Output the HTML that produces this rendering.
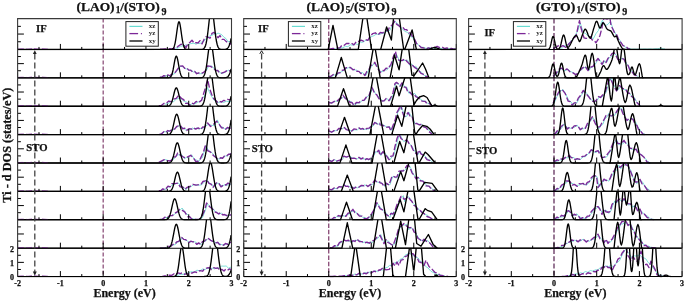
<!DOCTYPE html><html><head><meta charset="utf-8"><style>html,body{margin:0;padding:0;background:#fff;overflow:hidden;}svg{display:block;will-change:transform;}text{font-family:"Liberation Serif",serif;font-weight:bold;}</style></head><body>
<svg width="685" height="301" viewBox="0 0 685 301">
<rect x="0" y="0" width="685" height="301" fill="#fff"/>
<text transform="translate(11.3,145.2) rotate(-90)" text-anchor="middle" font-size="12.3" fill="#111" stroke="#111" stroke-width="0.25">Ti - d DOS (states/eV)</text>
<line x1="103.16" y1="18.6" x2="103.16" y2="276.57" stroke="#7a3465" stroke-width="1.1" stroke-dasharray="4,2"/>
<clipPath id="c0_0"><rect x="17.6" y="18.6" width="213.90" height="31.85"/></clipPath>
<path d="M170.00,49.15 L172.67,48.91 L175.33,48.10 L178.00,48.21 L180.50,46.23 L183.00,45.93 L185.50,44.97 L188.00,45.50 L190.00,43.73 L192.00,43.47 L194.00,43.22 L196.00,44.30 L198.00,43.04 L200.00,43.66 L202.00,41.69 L204.00,41.36 L206.00,38.44 L208.00,37.72 L210.00,35.46 L212.00,35.45 L214.00,33.76 L216.00,34.27 L218.00,33.07 L220.00,33.89 L222.00,34.93 L224.00,37.31 L226.00,38.60 L228.00,41.66 L230.00,41.66 L232.00,43.00" fill="none" stroke="#6adcd2" stroke-width="0.85" clip-path="url(#c0_0)"/>
<path d="M160.00,49.23 L162.50,49.29 L165.00,48.93 L167.50,49.05 L170.00,48.59 L172.00,48.92 L174.00,48.25 L176.00,48.23 L178.00,46.37 L181.00,44.20 L184.00,45.08 L186.00,47.65 L188.00,43.49 L190.00,42.32 L192.00,40.27 L194.00,42.99 L196.00,42.58 L198.00,42.96 L200.00,40.65 L202.00,43.91 L204.00,39.47 L206.00,36.80 L208.00,37.09 L210.00,38.27 L212.00,33.37 L214.00,32.39 L216.00,34.39 L218.00,37.72 L220.00,35.58 L222.00,39.45 L224.00,39.36 L226.00,41.39 L228.00,42.51 L230.00,44.35 L232.00,40.00" fill="none" stroke="#7c2898" stroke-width="1.35" stroke-dasharray="6.5,2.2" stroke-linejoin="round" clip-path="url(#c0_0)"/>
<path d="M17.60,49.45 L170.10,49.44 L170.60,49.42 L171.10,49.38 L171.60,49.31 L172.10,49.17 L172.60,48.91 L173.10,48.48 L173.30,48.23 L173.60,47.77 L174.10,46.70 L174.60,45.15 L175.10,43.04 L175.60,40.34 L176.10,37.11 L176.60,33.53 L177.10,29.88 L177.60,26.51 L178.10,23.83 L178.60,22.17 L179.00,21.75 L179.10,21.78 L179.60,22.69 L180.10,24.79 L180.60,27.80 L181.10,31.33 L181.60,34.99 L182.10,38.46 L182.60,41.49 L183.10,43.95 L183.60,45.83 L184.10,47.18 L184.60,48.09 L184.70,48.23 L185.10,48.68 L185.60,49.03 L186.10,49.23 L186.60,49.34 L187.10,49.40 L187.60,49.43 L200.60,49.43 L201.10,49.42 L201.60,49.38 L202.10,49.33 L202.60,49.22 L203.10,49.05 L203.60,48.77 L204.10,48.32 L204.60,47.65 L205.10,46.66 L205.60,45.28 L206.10,43.40 L206.60,40.97 L207.10,37.94 L207.60,34.34 L208.10,30.25 L208.60,25.84 L209.10,21.36 L209.60,17.10 L210.10,13.40 L210.60,10.57 L211.10,8.88 L211.50,8.45 L211.60,8.48 L212.10,9.41 L212.60,11.58 L213.10,14.79 L213.60,18.75 L214.10,23.14 L214.60,27.63 L215.10,31.94 L215.60,35.85 L216.10,39.23 L216.60,42.01 L217.10,44.22 L217.60,45.88 L218.10,47.10 L218.40,47.65 L218.60,47.95 L219.10,48.52 L219.60,48.90 L220.10,49.13 L220.60,49.27 L221.10,49.35 L221.60,49.40 L222.10,49.42 L223.60,49.43 L224.10,49.41 L224.60,49.38 L225.10,49.33 L225.60,49.25 L226.10,49.13 L226.60,48.94 L227.10,48.65 L227.60,48.23 L227.70,48.13 L228.10,47.65 L228.60,46.85 L229.10,45.79 L229.60,44.43 L230.10,42.74 L230.60,40.71 L231.10,38.35" fill="none" stroke="#000" stroke-width="1.35" stroke-linejoin="round" clip-path="url(#c0_0)"/>
<clipPath id="c0_1"><rect x="17.6" y="49.45" width="213.90" height="29.39"/></clipPath>
<path d="M160.60,77.12 L163.60,77.01 L166.60,75.52 L169.60,75.97 L172.60,74.61 L175.05,73.26 L177.50,70.12 L180.50,66.24 L183.50,66.93 L185.50,68.94 L187.50,68.94 L189.50,70.56 L191.50,70.36 L193.50,72.05 L195.50,71.77 L197.45,73.39 L199.40,73.73 L201.90,73.70 L204.40,72.20 L206.40,70.55 L208.40,66.61 L211.40,65.94 L214.40,68.62 L216.40,70.67 L218.40,70.56 L220.35,72.99 L222.30,73.58 L225.30,72.02 L228.30,70.26 L230.55,70.91 L232.80,69.94" fill="none" stroke="#6adcd2" stroke-width="0.85" clip-path="url(#c0_1)"/>
<path d="M159.80,77.07 L161.80,77.22 L163.80,75.62 L165.80,76.29 L167.80,74.82 L169.80,75.75 L171.80,74.05 L174.25,73.64 L176.70,70.41 L179.70,66.14 L182.70,65.93 L184.70,68.41 L186.70,67.98 L188.70,70.13 L190.70,70.19 L192.70,72.09 L194.70,71.33 L196.65,73.74 L198.60,72.89 L201.10,73.64 L203.60,72.46 L205.60,70.48 L207.60,65.86 L210.60,66.37 L213.60,68.33 L215.60,70.40 L217.60,70.46 L219.55,72.77 L221.50,73.19 L224.50,72.05 L227.50,70.32 L229.75,70.78 L232.00,69.80" fill="none" stroke="#7c2898" stroke-width="1.35" stroke-dasharray="6.5,2.2" stroke-linejoin="round" clip-path="url(#c0_1)"/>
<path d="M17.60,77.84 L167.60,77.83 L168.10,77.81 L168.60,77.77 L169.10,77.69 L169.60,77.55 L170.10,77.30 L170.60,76.89 L171.10,76.23 L171.60,75.25 L172.10,73.86 L172.60,72.02 L173.10,69.74 L173.60,67.08 L174.10,64.22 L174.60,61.41 L175.10,58.95 L175.60,57.14 L176.10,56.22 L176.30,56.14 L176.60,56.33 L177.10,57.44 L177.60,59.40 L178.10,61.95 L178.60,64.79 L179.10,67.63 L179.60,70.23 L180.10,72.43 L180.60,74.17 L181.10,75.47 L181.60,76.38 L182.00,76.89 L182.10,76.99 L182.60,77.36 L183.10,77.59 L183.60,77.71 L184.10,77.78 L184.60,77.81 L200.10,77.81 L200.60,77.79 L201.10,77.74 L201.60,77.66 L202.10,77.53 L202.60,77.30 L203.10,76.94 L203.60,76.40 L203.70,76.26 L204.10,75.59 L204.60,74.45 L205.10,72.90 L205.60,70.86 L206.10,68.31 L206.60,65.24 L207.10,61.73 L207.60,57.90 L208.10,53.95 L208.60,50.15 L209.10,46.78 L209.60,44.13 L210.10,42.43 L210.60,41.84 L211.10,42.43 L211.60,44.13 L212.10,46.78 L212.60,50.15 L213.10,53.95 L213.60,57.90 L214.10,61.73 L214.60,65.24 L215.10,68.31 L215.60,70.86 L216.10,72.90 L216.60,74.45 L217.10,75.59 L217.50,76.26 L217.60,76.40 L218.10,76.94 L218.60,77.30 L219.10,77.53 L219.60,77.66 L220.10,77.74 L220.60,77.79 L221.10,77.81 L223.60,77.82 L224.10,77.81 L224.60,77.79 L225.10,77.75 L225.60,77.68 L226.10,77.58 L226.60,77.43 L227.10,77.20 L227.60,76.87 L227.70,76.79 L228.10,76.40 L228.60,75.76 L229.10,74.91 L229.60,73.82 L230.10,72.47 L230.60,70.85 L231.10,68.96" fill="none" stroke="#000" stroke-width="1.35" stroke-linejoin="round" clip-path="url(#c0_1)"/>
<clipPath id="c0_2"><rect x="17.6" y="77.84" width="213.90" height="29.39"/></clipPath>
<path d="M165.00,104.08 L167.90,103.74 L170.80,101.78 L173.70,101.58 L176.20,99.15 L178.70,98.40 L181.20,98.70 L183.70,101.19 L186.70,102.17 L189.70,104.98 L192.33,103.70 L194.97,103.87 L197.60,102.30 L200.60,100.88 L203.60,97.29 L205.60,93.28 L207.60,87.63 L209.60,92.76 L211.60,96.40 L214.10,100.11 L216.60,101.35 L218.90,102.54 L221.20,101.46 L223.50,102.52 L226.33,101.27 L229.17,101.63 L232.00,100.90" fill="none" stroke="#6adcd2" stroke-width="0.85" clip-path="url(#c0_2)"/>
<path d="M158.80,105.74 L161.30,105.53 L163.80,103.54 L166.30,103.28 L168.80,101.03 L171.25,101.70 L173.70,99.14 L176.20,98.43 L178.70,95.18 L181.70,98.62 L183.70,99.70 L185.70,103.33 L187.70,103.30 L189.70,105.29 L191.70,103.11 L193.70,103.87 L196.15,101.46 L198.60,102.58 L201.60,100.29 L204.60,90.40 L207.60,79.65 L209.60,88.34 L211.60,94.27 L213.60,98.43 L215.60,100.33 L217.60,102.30 L219.60,101.23 L221.55,102.09 L223.50,100.42 L225.50,100.74 L227.50,99.36 L229.75,99.81 L232.00,98.90" fill="none" stroke="#7c2898" stroke-width="1.35" stroke-dasharray="6.5,2.2" stroke-linejoin="round" clip-path="url(#c0_2)"/>
<path d="M17.60,106.23 L166.60,106.21 L167.10,106.19 L167.60,106.15 L168.10,106.08 L168.60,105.97 L169.10,105.78 L169.60,105.50 L169.70,105.42 L170.10,105.06 L170.60,104.44 L171.10,103.59 L171.60,102.46 L172.10,101.04 L172.60,99.34 L173.10,97.40 L173.60,95.32 L174.10,93.23 L174.60,91.28 L175.10,89.64 L175.60,88.47 L176.10,87.88 L176.30,87.83 L176.60,87.95 L177.10,88.66 L177.60,89.93 L178.10,91.65 L178.60,93.64 L179.10,95.75 L179.60,97.81 L180.10,99.70 L180.60,101.35 L181.10,102.71 L181.60,103.78 L182.10,104.58 L182.60,105.16 L182.90,105.42 L183.10,105.56 L183.60,105.83 L184.10,106.00 L184.60,106.10 L185.10,106.16 L185.60,106.19 L186.10,106.21 L198.60,106.21 L199.10,106.20 L199.60,106.17 L200.10,106.11 L200.60,106.02 L201.10,105.87 L201.60,105.63 L202.10,105.26 L202.60,104.70 L202.70,104.56 L203.10,103.89 L203.60,102.76 L204.10,101.23 L204.60,99.24 L205.10,96.75 L205.60,93.76 L206.10,90.32 L206.60,86.52 L207.10,82.54 L207.60,78.61 L208.10,74.97 L208.60,71.91 L209.10,69.67 L209.60,68.44 L209.90,68.23 L210.10,68.32 L210.60,69.34 L211.10,71.39 L211.60,74.31 L212.10,77.85 L212.60,81.74 L213.10,85.73 L213.60,89.58 L214.10,93.11 L214.60,96.20 L215.10,98.78 L215.60,100.87 L216.10,102.49 L216.60,103.69 L217.10,104.56 L217.60,105.16 L218.10,105.57 L218.60,105.83 L219.10,106.00 L219.60,106.10 L220.10,106.16 L220.60,106.19 L221.10,106.21 L223.60,106.21 L224.10,106.20 L224.60,106.17 L225.10,106.13 L225.60,106.05 L226.10,105.94 L226.60,105.77 L227.10,105.51 L227.60,105.14 L227.70,105.04 L228.10,104.61 L228.60,103.89 L229.10,102.94 L229.60,101.71 L230.10,100.19 L230.60,98.36 L231.10,96.24" fill="none" stroke="#000" stroke-width="1.35" stroke-linejoin="round" clip-path="url(#c0_2)"/>
<clipPath id="c0_3"><rect x="17.6" y="106.23" width="213.90" height="29.39"/></clipPath>
<path d="M159.60,134.62 L162.10,133.76 L164.60,131.67 L167.60,131.98 L170.60,130.39 L173.05,130.26 L175.50,127.59 L177.50,127.16 L179.50,124.99 L181.50,127.39 L183.50,128.08 L185.50,130.02 L187.50,129.37 L190.00,129.69 L192.50,128.02 L194.50,129.08 L196.50,127.91 L198.95,128.96 L201.40,128.20 L203.40,128.20 L205.40,126.07 L208.40,124.37 L211.40,125.29 L214.40,125.73 L217.40,119.92 L220.40,126.76 L222.35,126.79 L224.30,128.94 L226.30,128.12 L228.30,128.40 L230.55,126.96 L232.80,127.27" fill="none" stroke="#6adcd2" stroke-width="0.85" clip-path="url(#c0_3)"/>
<path d="M158.80,134.62 L161.30,133.88 L163.80,131.63 L165.80,132.45 L167.80,130.53 L169.80,131.17 L172.25,129.17 L174.70,129.07 L176.70,126.31 L178.70,125.88 L180.70,125.83 L182.70,128.83 L184.70,128.13 L186.70,130.43 L189.20,128.56 L191.70,129.22 L193.70,127.76 L195.70,129.09 L198.15,127.83 L200.60,129.61 L202.60,127.04 L204.60,127.17 L207.60,122.98 L210.60,126.51 L213.60,124.28 L216.60,121.15 L219.60,124.91 L221.55,127.93 L223.50,128.01 L225.50,129.40 L227.50,127.41 L229.75,128.42 L232.00,126.80" fill="none" stroke="#7c2898" stroke-width="1.35" stroke-dasharray="6.5,2.2" stroke-linejoin="round" clip-path="url(#c0_3)"/>
<path d="M17.60,134.62 L167.10,134.59 L167.60,134.57 L168.10,134.52 L168.60,134.44 L169.10,134.30 L169.60,134.07 L170.10,133.72 L170.60,133.21 L171.10,132.47 L171.60,131.46 L172.10,130.15 L172.60,128.51 L173.10,126.57 L173.60,124.38 L174.10,122.06 L174.60,119.75 L175.10,117.64 L175.60,115.92 L176.10,114.74 L176.60,114.23 L176.70,114.22 L177.10,114.45 L177.60,115.37 L178.10,116.90 L178.60,118.87 L179.10,121.13 L179.60,123.46 L180.10,125.72 L180.60,127.77 L181.10,129.53 L181.60,130.98 L182.10,132.10 L182.60,132.94 L183.10,133.54 L183.30,133.72 L183.60,133.95 L184.10,134.22 L184.60,134.39 L185.10,134.49 L185.60,134.55 L186.10,134.58 L186.60,134.60 L199.10,134.60 L199.60,134.57 L200.10,134.53 L200.60,134.47 L201.10,134.35 L201.60,134.16 L202.10,133.85 L202.60,133.39 L203.00,132.86 L203.10,132.70 L203.60,131.72 L204.10,130.37 L204.60,128.58 L205.10,126.28 L205.60,123.45 L206.10,120.10 L206.60,116.31 L207.10,112.21 L207.60,108.01 L208.10,103.96 L208.60,100.34 L209.10,97.43 L209.60,95.48 L210.10,94.64 L210.20,94.62 L210.60,95.00 L211.10,96.53 L211.60,99.08 L212.10,102.44 L212.60,106.35 L213.10,110.53 L213.60,114.69 L214.10,118.63 L214.60,122.17 L215.10,125.21 L215.60,127.72 L216.10,129.71 L216.60,131.23 L217.10,132.35 L217.40,132.86 L217.60,133.15 L218.10,133.69 L218.60,134.05 L219.10,134.28 L219.60,134.43 L220.10,134.51 L220.60,134.56 L221.10,134.59 L221.60,134.60 L223.60,134.59 L224.10,134.57 L224.60,134.53 L225.10,134.47 L225.60,134.36 L226.10,134.19 L226.60,133.94 L227.10,133.55 L227.60,133.00 L227.70,132.86 L228.10,132.22 L228.60,131.15 L229.10,129.74 L229.60,127.93 L230.10,125.67 L230.60,122.97 L231.10,119.82" fill="none" stroke="#000" stroke-width="1.35" stroke-linejoin="round" clip-path="url(#c0_3)"/>
<clipPath id="c0_4"><rect x="17.6" y="134.62" width="213.90" height="29.39"/></clipPath>
<path d="M159.60,162.41 L162.60,161.15 L165.10,159.51 L167.60,160.30 L170.60,160.93 L174.50,158.48 L176.50,155.76 L178.50,154.77 L181.50,154.49 L184.50,158.71 L186.50,157.48 L188.50,157.90 L191.50,154.70 L194.50,159.60 L196.45,159.82 L198.40,162.03 L200.40,158.65 L202.40,157.64 L206.00,145.55 L208.40,150.25 L211.40,152.28 L214.40,155.18 L217.40,158.61 L219.40,159.05 L221.40,158.08 L223.35,157.75 L225.30,156.06 L227.30,156.01 L229.30,154.26 L232.80,153.03" fill="none" stroke="#6adcd2" stroke-width="0.85" clip-path="url(#c0_4)"/>
<path d="M158.80,162.38 L161.80,160.89 L164.30,159.62 L166.80,160.33 L169.80,160.99 L171.75,160.19 L173.70,156.98 L175.70,156.75 L177.70,153.08 L180.70,155.37 L183.70,157.23 L185.70,158.10 L187.70,156.86 L190.70,155.29 L193.70,158.44 L195.65,161.33 L197.60,161.42 L199.60,160.25 L201.60,156.05 L203.40,152.15 L205.20,145.97 L207.60,150.63 L210.60,152.10 L213.60,155.78 L216.60,158.00 L218.60,159.08 L220.60,157.78 L222.55,158.26 L224.50,155.85 L226.50,156.14 L228.50,154.27 L230.25,154.28 L232.00,152.90" fill="none" stroke="#7c2898" stroke-width="1.35" stroke-dasharray="6.5,2.2" stroke-linejoin="round" clip-path="url(#c0_4)"/>
<path d="M17.60,163.01 L167.60,162.99 L168.10,162.96 L168.60,162.92 L169.10,162.85 L169.60,162.72 L170.10,162.52 L170.60,162.20 L170.70,162.12 L171.10,161.73 L171.60,161.05 L172.10,160.11 L172.60,158.87 L173.10,157.31 L173.60,155.44 L174.10,153.32 L174.60,151.04 L175.10,148.74 L175.60,146.59 L176.10,144.79 L176.60,143.51 L177.10,142.87 L177.30,142.81 L177.60,142.94 L178.10,143.72 L178.60,145.12 L179.10,147.00 L179.60,149.19 L180.10,151.50 L180.60,153.76 L181.10,155.84 L181.60,157.65 L182.10,159.14 L182.60,160.32 L183.10,161.20 L183.60,161.84 L183.90,162.12 L184.10,162.28 L184.60,162.57 L185.10,162.75 L185.60,162.87 L186.10,162.93 L186.60,162.97 L187.10,162.99 L199.60,162.98 L200.10,162.96 L200.60,162.91 L201.10,162.84 L201.60,162.71 L202.10,162.50 L202.60,162.17 L203.10,161.66 L203.40,161.25 L203.60,160.92 L204.10,159.88 L204.60,158.44 L205.10,156.55 L205.60,154.15 L206.10,151.21 L206.60,147.76 L207.10,143.90 L207.60,139.76 L208.10,135.57 L208.60,131.58 L209.10,128.08 L209.60,125.35 L210.10,123.61 L210.60,123.01 L211.10,123.61 L211.60,125.35 L212.10,128.08 L212.60,131.58 L213.10,135.57 L213.60,139.76 L214.10,143.90 L214.60,147.76 L215.10,151.21 L215.60,154.15 L216.10,156.55 L216.60,158.44 L217.10,159.88 L217.60,160.92 L217.80,161.25 L218.10,161.66 L218.60,162.17 L219.10,162.50 L219.60,162.71 L220.10,162.84 L220.60,162.91 L221.10,162.96 L221.60,162.98 L223.60,162.99 L224.10,162.98 L224.60,162.95 L225.10,162.91 L225.60,162.85 L226.10,162.74 L226.60,162.58 L227.10,162.34 L227.60,162.00 L227.70,161.91 L228.10,161.51 L228.60,160.84 L229.10,159.96 L229.60,158.83 L230.10,157.42 L230.60,155.73 L231.10,153.76" fill="none" stroke="#000" stroke-width="1.35" stroke-linejoin="round" clip-path="url(#c0_4)"/>
<clipPath id="c0_5"><rect x="17.6" y="163.01" width="213.90" height="29.39"/></clipPath>
<path d="M159.60,190.65 L161.60,190.58 L163.60,189.19 L165.80,189.29 L168.80,186.80 L170.80,186.66 L172.80,184.08 L175.80,183.53 L178.80,183.19 L180.80,186.88 L183.80,187.44 L185.80,189.65 L187.80,187.86 L190.80,186.69 L193.80,184.62 L196.80,185.08 L199.80,185.14 L201.80,184.72 L203.80,182.33 L205.80,180.57 L207.80,180.97 L209.80,183.30 L211.80,184.15 L213.80,187.34 L215.80,184.53 L217.80,183.07 L219.80,183.96 L221.80,186.35 L224.80,184.68 L226.80,185.62 L228.80,184.07 L230.80,184.27 L232.80,183.25" fill="none" stroke="#6adcd2" stroke-width="0.85" clip-path="url(#c0_5)"/>
<path d="M158.80,190.58 L160.80,190.68 L162.80,188.84 L165.00,189.94 L168.00,186.19 L170.00,186.92 L172.00,183.66 L175.00,183.63 L178.00,183.06 L180.00,186.75 L183.00,187.09 L185.00,189.40 L187.00,187.37 L190.00,186.49 L193.00,184.32 L196.00,185.20 L199.00,184.67 L201.00,184.47 L203.00,181.49 L205.00,180.92 L207.00,180.18 L209.00,183.43 L211.00,184.16 L213.00,187.42 L215.00,184.27 L217.00,182.41 L219.00,183.67 L221.00,186.89 L224.00,184.54 L226.00,184.97 L228.00,183.04 L230.00,184.39 L232.00,183.00" fill="none" stroke="#7c2898" stroke-width="1.35" stroke-dasharray="6.5,2.2" stroke-linejoin="round" clip-path="url(#c0_5)"/>
<path d="M17.60,191.40 L167.60,191.38 L168.10,191.36 L168.60,191.33 L169.10,191.26 L169.60,191.16 L170.10,190.98 L170.60,190.70 L170.80,190.56 L171.10,190.29 L171.60,189.68 L172.10,188.84 L172.60,187.72 L173.10,186.30 L173.60,184.59 L174.10,182.61 L174.60,180.46 L175.10,178.26 L175.60,176.18 L176.10,174.39 L176.60,173.06 L177.10,172.32 L177.40,172.20 L177.60,172.26 L178.10,172.86 L178.60,174.08 L179.10,175.80 L179.60,177.83 L180.10,180.02 L180.60,182.19 L181.10,184.21 L181.60,185.98 L182.10,187.46 L182.60,188.64 L183.10,189.53 L183.60,190.18 L184.00,190.56 L184.10,190.63 L184.60,190.93 L185.10,191.13 L185.60,191.25 L186.10,191.32 L186.60,191.36 L187.10,191.38 L200.60,191.37 L201.10,191.35 L201.60,191.30 L202.10,191.22 L202.60,191.07 L203.10,190.83 L203.60,190.45 L203.90,190.13 L204.10,189.86 L204.60,189.01 L205.10,187.82 L205.60,186.22 L206.10,184.17 L206.60,181.66 L207.10,178.75 L207.60,175.54 L208.10,172.22 L208.60,169.02 L209.10,166.20 L209.60,164.04 L210.10,162.73 L210.50,162.40 L210.60,162.42 L211.10,163.14 L211.60,164.81 L212.10,167.27 L212.60,170.27 L213.10,173.54 L213.60,176.85 L214.10,179.96 L214.60,182.72 L215.10,185.04 L215.60,186.91 L216.10,188.34 L216.60,189.39 L217.10,190.13 L217.60,190.62 L218.10,190.94 L218.60,191.14 L219.10,191.26 L219.60,191.32 L220.10,191.36 L220.60,191.38 L223.60,191.37 L224.10,191.35 L224.60,191.31 L225.10,191.25 L225.60,191.14 L226.10,190.97 L226.60,190.72 L227.10,190.33 L227.60,189.78 L227.70,189.64 L228.10,189.00 L228.60,187.93 L229.10,186.52 L229.60,184.71 L230.10,182.45 L230.60,179.75 L231.10,176.60" fill="none" stroke="#000" stroke-width="1.35" stroke-linejoin="round" clip-path="url(#c0_5)"/>
<clipPath id="c0_6"><rect x="17.6" y="191.39999999999998" width="213.90" height="29.39"/></clipPath>
<path d="M160.60,219.45 L163.10,219.06 L165.60,217.47 L168.10,217.75 L170.60,215.81 L173.05,215.34 L175.50,213.48 L178.50,211.61 L182.10,208.00 L185.50,212.47 L188.50,215.51 L190.50,217.83 L192.50,218.75 L195.45,219.35 L198.40,219.41 L200.40,219.01 L202.40,217.67 L205.40,210.39 L207.40,203.80 L210.40,206.70 L213.40,209.01 L215.40,212.00 L217.40,212.37 L219.40,213.97 L221.40,212.94 L223.35,214.93 L225.30,214.51 L227.30,215.97 L229.30,215.20 L232.80,214.13" fill="none" stroke="#6adcd2" stroke-width="0.85" clip-path="url(#c0_6)"/>
<path d="M159.80,219.38 L162.30,219.17 L164.80,217.29 L167.30,217.40 L169.80,215.57 L172.25,215.66 L174.70,213.27 L177.70,211.72 L179.50,209.33 L181.30,209.73 L184.70,211.80 L187.70,216.75 L189.70,216.60 L191.70,219.16 L193.67,218.87 L195.63,219.49 L197.60,219.43 L199.60,219.07 L201.60,217.10 L204.60,210.40 L206.60,203.05 L209.60,206.67 L212.60,209.03 L214.60,211.94 L216.60,212.51 L218.60,214.05 L220.60,212.65 L222.55,214.81 L224.50,214.51 L226.50,215.65 L228.50,214.76 L230.25,215.21 L232.00,213.90" fill="none" stroke="#7c2898" stroke-width="1.35" stroke-dasharray="6.5,2.2" stroke-linejoin="round" clip-path="url(#c0_6)"/>
<path d="M17.60,219.79 L164.60,219.76 L165.10,219.74 L165.60,219.70 L166.10,219.63 L166.60,219.51 L167.10,219.32 L167.60,219.02 L167.80,218.87 L168.10,218.59 L168.60,217.96 L169.10,217.11 L169.60,215.98 L170.10,214.55 L170.60,212.82 L171.10,210.82 L171.60,208.61 L172.10,206.32 L172.60,204.07 L173.10,202.04 L173.60,200.39 L174.10,199.28 L174.60,198.80 L174.70,198.79 L175.10,199.01 L175.60,199.88 L176.10,201.33 L176.60,203.22 L177.10,205.40 L177.60,207.70 L178.10,209.96 L178.60,212.05 L179.10,213.90 L179.60,215.45 L180.10,216.69 L180.60,217.65 L181.10,218.36 L181.60,218.87 L182.10,219.21 L182.60,219.44 L183.10,219.59 L183.60,219.67 L184.10,219.73 L184.60,219.76 L185.10,219.77 L197.10,219.76 L197.60,219.74 L198.10,219.69 L198.60,219.60 L199.10,219.46 L199.60,219.22 L200.10,218.84 L200.60,218.27 L200.70,218.12 L201.10,217.42 L201.60,216.21 L202.10,214.57 L202.60,212.43 L203.10,209.73 L203.60,206.50 L204.10,202.78 L204.60,198.74 L205.10,194.58 L205.60,190.56 L206.10,187.01 L206.60,184.20 L207.10,182.41 L207.60,181.79 L208.10,182.41 L208.60,184.20 L209.10,187.01 L209.60,190.56 L210.10,194.58 L210.60,198.74 L211.10,202.78 L211.60,206.50 L212.10,209.73 L212.60,212.43 L213.10,214.57 L213.60,216.21 L214.10,217.42 L214.50,218.12 L214.60,218.27 L215.10,218.84 L215.60,219.22 L216.10,219.46 L216.60,219.60 L217.10,219.69 L217.60,219.74 L218.10,219.76 L223.10,219.77 L223.60,219.76 L224.10,219.73 L224.60,219.68 L225.10,219.60 L225.60,219.46 L226.10,219.26 L226.60,218.93 L227.10,218.46 L227.60,217.76 L227.70,217.59 L228.10,216.79 L228.60,215.46 L229.10,213.69 L229.60,211.43 L230.10,208.61 L230.60,205.22 L231.10,201.29" fill="none" stroke="#000" stroke-width="1.35" stroke-linejoin="round" clip-path="url(#c0_6)"/>
<clipPath id="c0_7"><rect x="17.6" y="219.79000000000002" width="213.90" height="29.39"/></clipPath>
<path d="M160.60,248.18 L163.60,248.18 L166.60,247.70 L169.10,247.31 L171.60,245.45 L175.50,244.48 L177.50,241.94 L179.50,241.59 L182.50,237.52 L184.50,239.93 L186.50,240.29 L189.50,242.49 L191.50,241.34 L193.50,241.81 L195.50,241.88 L197.50,244.13 L199.45,243.39 L201.40,244.48 L203.40,241.84 L205.40,241.30 L208.40,238.29 L211.40,240.67 L214.40,241.86 L216.40,243.06 L218.40,242.47 L220.35,244.32 L222.30,244.74 L224.30,245.09 L226.30,243.72 L228.30,244.38 L230.30,242.67 L232.80,242.04" fill="none" stroke="#6adcd2" stroke-width="0.85" clip-path="url(#c0_7)"/>
<path d="M159.80,248.18 L161.80,248.18 L163.80,248.12 L165.80,247.87 L168.30,246.34 L170.80,246.36 L172.75,244.44 L174.70,244.45 L176.70,241.95 L178.70,241.41 L181.70,237.43 L183.70,239.38 L185.70,239.60 L188.70,242.66 L190.70,241.19 L192.70,241.87 L194.70,241.67 L196.70,244.34 L198.65,242.90 L200.60,244.38 L202.60,241.34 L204.60,241.16 L207.60,237.92 L210.60,240.31 L213.60,241.78 L215.60,242.90 L217.60,242.27 L219.55,244.66 L221.50,244.36 L223.50,245.20 L225.50,243.46 L227.50,244.37 L229.50,242.72 L232.00,242.20" fill="none" stroke="#7c2898" stroke-width="1.35" stroke-dasharray="6.5,2.2" stroke-linejoin="round" clip-path="url(#c0_7)"/>
<path d="M17.60,248.18 L166.60,248.15 L167.10,248.12 L167.60,248.08 L168.10,247.99 L168.60,247.84 L169.10,247.60 L169.60,247.23 L169.70,247.13 L170.10,246.66 L170.60,245.86 L171.10,244.74 L171.60,243.28 L172.10,241.44 L172.60,239.23 L173.10,236.72 L173.60,234.01 L174.10,231.29 L174.60,228.76 L175.10,226.63 L175.60,225.11 L176.10,224.35 L176.30,224.28 L176.60,224.43 L177.10,225.35 L177.60,227.01 L178.10,229.24 L178.60,231.83 L179.10,234.56 L179.60,237.24 L180.10,239.70 L180.60,241.84 L181.10,243.60 L181.60,244.99 L182.10,246.04 L182.60,246.79 L182.90,247.13 L183.10,247.31 L183.60,247.66 L184.10,247.88 L184.60,248.01 L185.10,248.09 L185.60,248.13 L186.10,248.16 L198.10,248.15 L198.60,248.13 L199.10,248.08 L199.60,247.99 L200.10,247.85 L200.60,247.61 L201.10,247.23 L201.60,246.66 L201.70,246.51 L202.10,245.81 L202.60,244.60 L203.10,242.96 L203.60,240.82 L204.10,238.12 L204.60,234.89 L205.10,231.17 L205.60,227.13 L206.10,222.97 L206.60,218.95 L207.10,215.40 L207.60,212.59 L208.10,210.80 L208.60,210.18 L209.10,210.80 L209.60,212.59 L210.10,215.40 L210.60,218.95 L211.10,222.97 L211.60,227.13 L212.10,231.17 L212.60,234.89 L213.10,238.12 L213.60,240.82 L214.10,242.96 L214.60,244.60 L215.10,245.81 L215.50,246.51 L215.60,246.66 L216.10,247.23 L216.60,247.61 L217.10,247.85 L217.60,247.99 L218.10,248.08 L218.60,248.13 L219.10,248.15 L223.60,248.16 L224.10,248.14 L224.60,248.10 L225.10,248.04 L225.60,247.95 L226.10,247.81 L226.60,247.58 L227.10,247.25 L227.60,246.76 L227.70,246.64 L228.10,246.08 L228.60,245.15 L229.10,243.91 L229.60,242.32 L230.10,240.35 L230.60,237.98 L231.10,235.23" fill="none" stroke="#000" stroke-width="1.35" stroke-linejoin="round" clip-path="url(#c0_7)"/>
<clipPath id="c0_8"><rect x="17.6" y="248.18" width="213.90" height="29.39"/></clipPath>
<path d="M175.00,275.79 L177.68,275.55 L180.36,274.25 L183.04,274.53 L185.72,272.86 L188.40,273.26 L191.24,271.59 L194.08,272.15 L196.92,270.16 L199.76,270.87 L202.60,269.03 L204.97,269.52 L207.33,268.20 L209.70,268.89 L212.10,268.12 L214.50,268.86 L216.90,267.82 L219.27,268.29 L221.63,266.05 L224.00,266.16 L226.20,265.99 L228.40,268.11 L232.00,266.70" fill="none" stroke="#6adcd2" stroke-width="0.85" clip-path="url(#c0_8)"/>
<path d="M160.00,276.57 L162.33,276.41 L164.67,275.80 L167.00,275.98 L169.37,275.06 L171.73,275.38 L174.10,273.79 L176.17,274.59 L178.23,272.82 L180.30,273.62 L182.55,272.78 L184.80,274.45 L186.60,273.20 L188.40,274.36 L190.15,272.67 L191.90,273.08 L194.60,271.96 L197.30,272.50 L199.95,270.56 L202.60,271.21 L204.85,268.38 L207.10,268.00 L209.30,267.56 L211.50,269.47 L213.75,267.68 L216.00,268.33 L217.75,267.93 L219.50,270.15 L221.75,269.31 L224.00,271.07 L225.75,269.20 L227.50,270.15 L229.75,268.94 L232.00,270.30" fill="none" stroke="#7c2898" stroke-width="1.35" stroke-dasharray="6.5,2.2" stroke-linejoin="round" clip-path="url(#c0_8)"/>
<path d="M17.60,276.57 L173.10,276.55 L173.60,276.52 L174.10,276.47 L174.60,276.37 L175.10,276.17 L175.60,275.83 L176.10,275.25 L176.60,274.34 L177.10,272.99 L177.60,271.07 L178.10,268.53 L178.60,265.37 L179.10,261.69 L179.60,257.74 L180.10,253.85 L180.60,250.45 L181.10,247.95 L181.60,246.69 L181.80,246.57 L182.10,246.83 L182.60,248.36 L183.10,251.07 L183.60,254.60 L184.10,258.53 L184.60,262.46 L185.10,266.04 L185.60,269.09 L186.10,271.50 L186.60,273.30 L187.10,274.56 L187.50,275.25 L187.60,275.39 L188.10,275.91 L188.60,276.22 L189.10,276.39 L189.60,276.48 L190.10,276.53 L190.60,276.55 L204.10,276.54 L204.60,276.52 L205.10,276.47 L205.60,276.40 L206.10,276.27 L206.60,276.06 L207.10,275.73 L207.60,275.22 L207.90,274.81 L208.10,274.48 L208.60,273.44 L209.10,272.00 L209.60,270.11 L210.10,267.71 L210.60,264.77 L211.10,261.32 L211.60,257.46 L212.10,253.32 L212.60,249.13 L213.10,245.14 L213.60,241.64 L214.10,238.91 L214.60,237.17 L215.10,236.57 L215.60,237.17 L216.10,238.91 L216.60,241.64 L217.10,245.14 L217.60,249.13 L218.10,253.32 L218.60,257.46 L219.10,261.32 L219.60,264.77 L220.10,267.71 L220.60,270.11 L221.10,272.00 L221.60,273.44 L222.10,274.48 L222.30,274.81 L222.60,275.22 L223.10,275.72 L223.60,276.04 L224.10,276.25 L224.60,276.36 L225.10,276.41 L225.60,276.41 L226.10,276.36 L226.60,276.27 L227.10,276.11 L227.60,275.88 L227.70,275.82 L228.10,275.55 L228.60,275.10 L229.10,274.50 L229.60,273.73 L230.10,272.77 L230.60,271.62 L231.10,270.28" fill="none" stroke="#000" stroke-width="1.35" stroke-linejoin="round" clip-path="url(#c0_8)"/>
<path d="M18,49.05 L22,48.85 L28,49.15 L33,48.55 L38,49.05 L42,48.75 L48,49.15" fill="none" stroke="#7c2898" stroke-width="1.0" stroke-dasharray="6,2" opacity="0.8"/>
<path d="M18,77.44 L22,77.24 L28,77.54 L33,76.94 L38,77.44 L42,77.14 L48,77.54" fill="none" stroke="#7c2898" stroke-width="1.0" stroke-dasharray="6,2" opacity="0.8"/>
<path d="M18,105.83 L22,105.63 L28,105.93 L33,105.33 L38,105.83 L42,105.53 L48,105.93" fill="none" stroke="#7c2898" stroke-width="1.0" stroke-dasharray="6,2" opacity="0.8"/>
<path d="M18,134.22 L22,134.02 L28,134.32 L33,133.72 L38,134.22 L42,133.92 L48,134.32" fill="none" stroke="#7c2898" stroke-width="1.0" stroke-dasharray="6,2" opacity="0.8"/>
<path d="M18,162.61 L22,162.41 L28,162.71 L33,162.11 L38,162.61 L42,162.31 L48,162.71" fill="none" stroke="#7c2898" stroke-width="1.0" stroke-dasharray="6,2" opacity="0.8"/>
<path d="M18,191.00 L22,190.80 L28,191.10 L33,190.50 L38,191.00 L42,190.70 L48,191.10" fill="none" stroke="#7c2898" stroke-width="1.0" stroke-dasharray="6,2" opacity="0.8"/>
<path d="M18,219.39 L22,219.19 L28,219.49 L33,218.89 L38,219.39 L42,219.09 L48,219.49" fill="none" stroke="#7c2898" stroke-width="1.0" stroke-dasharray="6,2" opacity="0.8"/>
<path d="M18,247.78 L22,247.58 L28,247.88 L33,247.28 L38,247.78 L42,247.48 L48,247.88" fill="none" stroke="#7c2898" stroke-width="1.0" stroke-dasharray="6,2" opacity="0.8"/>
<path d="M18,276.17 L22,275.97 L28,276.27 L33,275.67 L38,276.17 L42,275.87 L48,276.27" fill="none" stroke="#7c2898" stroke-width="1.0" stroke-dasharray="6,2" opacity="0.8"/>
<line x1="17.6" y1="49.45" x2="231.5" y2="49.45" stroke="#000" stroke-width="1.1"/>
<line x1="17.60" y1="49.45" x2="17.60" y2="43.95" stroke="#000" stroke-width="1"/>
<line x1="38.99" y1="49.45" x2="38.99" y2="46.95" stroke="#000" stroke-width="1"/>
<line x1="60.38" y1="49.45" x2="60.38" y2="43.95" stroke="#000" stroke-width="1"/>
<line x1="81.77" y1="49.45" x2="81.77" y2="46.95" stroke="#000" stroke-width="1"/>
<line x1="103.16" y1="49.45" x2="103.16" y2="43.95" stroke="#000" stroke-width="1"/>
<line x1="124.55" y1="49.45" x2="124.55" y2="46.95" stroke="#000" stroke-width="1"/>
<line x1="145.94" y1="49.45" x2="145.94" y2="43.95" stroke="#000" stroke-width="1"/>
<line x1="167.33" y1="49.45" x2="167.33" y2="46.95" stroke="#000" stroke-width="1"/>
<line x1="188.72" y1="49.45" x2="188.72" y2="43.95" stroke="#000" stroke-width="1"/>
<line x1="210.11" y1="49.45" x2="210.11" y2="46.95" stroke="#000" stroke-width="1"/>
<line x1="231.50" y1="49.45" x2="231.50" y2="43.95" stroke="#000" stroke-width="1"/>
<line x1="17.6" y1="41.75" x2="20.900000000000002" y2="41.75" stroke="#000" stroke-width="1"/>
<line x1="17.6" y1="34.05" x2="23.900000000000002" y2="34.05" stroke="#000" stroke-width="1"/>
<line x1="17.6" y1="26.35" x2="20.900000000000002" y2="26.35" stroke="#000" stroke-width="1"/>
<line x1="17.6" y1="77.84" x2="231.5" y2="77.84" stroke="#000" stroke-width="1.1"/>
<line x1="17.60" y1="77.84" x2="17.60" y2="72.34" stroke="#000" stroke-width="1"/>
<line x1="38.99" y1="77.84" x2="38.99" y2="75.34" stroke="#000" stroke-width="1"/>
<line x1="60.38" y1="77.84" x2="60.38" y2="72.34" stroke="#000" stroke-width="1"/>
<line x1="81.77" y1="77.84" x2="81.77" y2="75.34" stroke="#000" stroke-width="1"/>
<line x1="103.16" y1="77.84" x2="103.16" y2="72.34" stroke="#000" stroke-width="1"/>
<line x1="124.55" y1="77.84" x2="124.55" y2="75.34" stroke="#000" stroke-width="1"/>
<line x1="145.94" y1="77.84" x2="145.94" y2="72.34" stroke="#000" stroke-width="1"/>
<line x1="167.33" y1="77.84" x2="167.33" y2="75.34" stroke="#000" stroke-width="1"/>
<line x1="188.72" y1="77.84" x2="188.72" y2="72.34" stroke="#000" stroke-width="1"/>
<line x1="210.11" y1="77.84" x2="210.11" y2="75.34" stroke="#000" stroke-width="1"/>
<line x1="231.50" y1="77.84" x2="231.50" y2="72.34" stroke="#000" stroke-width="1"/>
<line x1="17.6" y1="70.74" x2="20.900000000000002" y2="70.74" stroke="#000" stroke-width="1"/>
<line x1="17.6" y1="63.64" x2="23.900000000000002" y2="63.64" stroke="#000" stroke-width="1"/>
<line x1="17.6" y1="56.54" x2="20.900000000000002" y2="56.54" stroke="#000" stroke-width="1"/>
<line x1="17.6" y1="106.23" x2="231.5" y2="106.23" stroke="#000" stroke-width="1.1"/>
<line x1="17.60" y1="106.23" x2="17.60" y2="100.73" stroke="#000" stroke-width="1"/>
<line x1="38.99" y1="106.23" x2="38.99" y2="103.73" stroke="#000" stroke-width="1"/>
<line x1="60.38" y1="106.23" x2="60.38" y2="100.73" stroke="#000" stroke-width="1"/>
<line x1="81.77" y1="106.23" x2="81.77" y2="103.73" stroke="#000" stroke-width="1"/>
<line x1="103.16" y1="106.23" x2="103.16" y2="100.73" stroke="#000" stroke-width="1"/>
<line x1="124.55" y1="106.23" x2="124.55" y2="103.73" stroke="#000" stroke-width="1"/>
<line x1="145.94" y1="106.23" x2="145.94" y2="100.73" stroke="#000" stroke-width="1"/>
<line x1="167.33" y1="106.23" x2="167.33" y2="103.73" stroke="#000" stroke-width="1"/>
<line x1="188.72" y1="106.23" x2="188.72" y2="100.73" stroke="#000" stroke-width="1"/>
<line x1="210.11" y1="106.23" x2="210.11" y2="103.73" stroke="#000" stroke-width="1"/>
<line x1="231.50" y1="106.23" x2="231.50" y2="100.73" stroke="#000" stroke-width="1"/>
<line x1="17.6" y1="99.13" x2="20.900000000000002" y2="99.13" stroke="#000" stroke-width="1"/>
<line x1="17.6" y1="92.03" x2="23.900000000000002" y2="92.03" stroke="#000" stroke-width="1"/>
<line x1="17.6" y1="84.93" x2="20.900000000000002" y2="84.93" stroke="#000" stroke-width="1"/>
<line x1="17.6" y1="134.62" x2="231.5" y2="134.62" stroke="#000" stroke-width="1.1"/>
<line x1="17.60" y1="134.62" x2="17.60" y2="129.12" stroke="#000" stroke-width="1"/>
<line x1="38.99" y1="134.62" x2="38.99" y2="132.12" stroke="#000" stroke-width="1"/>
<line x1="60.38" y1="134.62" x2="60.38" y2="129.12" stroke="#000" stroke-width="1"/>
<line x1="81.77" y1="134.62" x2="81.77" y2="132.12" stroke="#000" stroke-width="1"/>
<line x1="103.16" y1="134.62" x2="103.16" y2="129.12" stroke="#000" stroke-width="1"/>
<line x1="124.55" y1="134.62" x2="124.55" y2="132.12" stroke="#000" stroke-width="1"/>
<line x1="145.94" y1="134.62" x2="145.94" y2="129.12" stroke="#000" stroke-width="1"/>
<line x1="167.33" y1="134.62" x2="167.33" y2="132.12" stroke="#000" stroke-width="1"/>
<line x1="188.72" y1="134.62" x2="188.72" y2="129.12" stroke="#000" stroke-width="1"/>
<line x1="210.11" y1="134.62" x2="210.11" y2="132.12" stroke="#000" stroke-width="1"/>
<line x1="231.50" y1="134.62" x2="231.50" y2="129.12" stroke="#000" stroke-width="1"/>
<line x1="17.6" y1="127.52" x2="20.900000000000002" y2="127.52" stroke="#000" stroke-width="1"/>
<line x1="17.6" y1="120.42" x2="23.900000000000002" y2="120.42" stroke="#000" stroke-width="1"/>
<line x1="17.6" y1="113.32" x2="20.900000000000002" y2="113.32" stroke="#000" stroke-width="1"/>
<line x1="17.6" y1="163.01" x2="231.5" y2="163.01" stroke="#000" stroke-width="1.1"/>
<line x1="17.60" y1="163.01" x2="17.60" y2="157.51" stroke="#000" stroke-width="1"/>
<line x1="38.99" y1="163.01" x2="38.99" y2="160.51" stroke="#000" stroke-width="1"/>
<line x1="60.38" y1="163.01" x2="60.38" y2="157.51" stroke="#000" stroke-width="1"/>
<line x1="81.77" y1="163.01" x2="81.77" y2="160.51" stroke="#000" stroke-width="1"/>
<line x1="103.16" y1="163.01" x2="103.16" y2="157.51" stroke="#000" stroke-width="1"/>
<line x1="124.55" y1="163.01" x2="124.55" y2="160.51" stroke="#000" stroke-width="1"/>
<line x1="145.94" y1="163.01" x2="145.94" y2="157.51" stroke="#000" stroke-width="1"/>
<line x1="167.33" y1="163.01" x2="167.33" y2="160.51" stroke="#000" stroke-width="1"/>
<line x1="188.72" y1="163.01" x2="188.72" y2="157.51" stroke="#000" stroke-width="1"/>
<line x1="210.11" y1="163.01" x2="210.11" y2="160.51" stroke="#000" stroke-width="1"/>
<line x1="231.50" y1="163.01" x2="231.50" y2="157.51" stroke="#000" stroke-width="1"/>
<line x1="17.6" y1="155.91" x2="20.900000000000002" y2="155.91" stroke="#000" stroke-width="1"/>
<line x1="17.6" y1="148.81" x2="23.900000000000002" y2="148.81" stroke="#000" stroke-width="1"/>
<line x1="17.6" y1="141.71" x2="20.900000000000002" y2="141.71" stroke="#000" stroke-width="1"/>
<line x1="17.6" y1="191.40" x2="231.5" y2="191.40" stroke="#000" stroke-width="1.1"/>
<line x1="17.60" y1="191.40" x2="17.60" y2="185.90" stroke="#000" stroke-width="1"/>
<line x1="38.99" y1="191.40" x2="38.99" y2="188.90" stroke="#000" stroke-width="1"/>
<line x1="60.38" y1="191.40" x2="60.38" y2="185.90" stroke="#000" stroke-width="1"/>
<line x1="81.77" y1="191.40" x2="81.77" y2="188.90" stroke="#000" stroke-width="1"/>
<line x1="103.16" y1="191.40" x2="103.16" y2="185.90" stroke="#000" stroke-width="1"/>
<line x1="124.55" y1="191.40" x2="124.55" y2="188.90" stroke="#000" stroke-width="1"/>
<line x1="145.94" y1="191.40" x2="145.94" y2="185.90" stroke="#000" stroke-width="1"/>
<line x1="167.33" y1="191.40" x2="167.33" y2="188.90" stroke="#000" stroke-width="1"/>
<line x1="188.72" y1="191.40" x2="188.72" y2="185.90" stroke="#000" stroke-width="1"/>
<line x1="210.11" y1="191.40" x2="210.11" y2="188.90" stroke="#000" stroke-width="1"/>
<line x1="231.50" y1="191.40" x2="231.50" y2="185.90" stroke="#000" stroke-width="1"/>
<line x1="17.6" y1="184.30" x2="20.900000000000002" y2="184.30" stroke="#000" stroke-width="1"/>
<line x1="17.6" y1="177.20" x2="23.900000000000002" y2="177.20" stroke="#000" stroke-width="1"/>
<line x1="17.6" y1="170.10" x2="20.900000000000002" y2="170.10" stroke="#000" stroke-width="1"/>
<line x1="17.6" y1="219.79" x2="231.5" y2="219.79" stroke="#000" stroke-width="1.1"/>
<line x1="17.60" y1="219.79" x2="17.60" y2="214.29" stroke="#000" stroke-width="1"/>
<line x1="38.99" y1="219.79" x2="38.99" y2="217.29" stroke="#000" stroke-width="1"/>
<line x1="60.38" y1="219.79" x2="60.38" y2="214.29" stroke="#000" stroke-width="1"/>
<line x1="81.77" y1="219.79" x2="81.77" y2="217.29" stroke="#000" stroke-width="1"/>
<line x1="103.16" y1="219.79" x2="103.16" y2="214.29" stroke="#000" stroke-width="1"/>
<line x1="124.55" y1="219.79" x2="124.55" y2="217.29" stroke="#000" stroke-width="1"/>
<line x1="145.94" y1="219.79" x2="145.94" y2="214.29" stroke="#000" stroke-width="1"/>
<line x1="167.33" y1="219.79" x2="167.33" y2="217.29" stroke="#000" stroke-width="1"/>
<line x1="188.72" y1="219.79" x2="188.72" y2="214.29" stroke="#000" stroke-width="1"/>
<line x1="210.11" y1="219.79" x2="210.11" y2="217.29" stroke="#000" stroke-width="1"/>
<line x1="231.50" y1="219.79" x2="231.50" y2="214.29" stroke="#000" stroke-width="1"/>
<line x1="17.6" y1="212.69" x2="20.900000000000002" y2="212.69" stroke="#000" stroke-width="1"/>
<line x1="17.6" y1="205.59" x2="23.900000000000002" y2="205.59" stroke="#000" stroke-width="1"/>
<line x1="17.6" y1="198.49" x2="20.900000000000002" y2="198.49" stroke="#000" stroke-width="1"/>
<line x1="17.6" y1="248.18" x2="231.5" y2="248.18" stroke="#000" stroke-width="1.1"/>
<line x1="17.60" y1="248.18" x2="17.60" y2="242.68" stroke="#000" stroke-width="1"/>
<line x1="38.99" y1="248.18" x2="38.99" y2="245.68" stroke="#000" stroke-width="1"/>
<line x1="60.38" y1="248.18" x2="60.38" y2="242.68" stroke="#000" stroke-width="1"/>
<line x1="81.77" y1="248.18" x2="81.77" y2="245.68" stroke="#000" stroke-width="1"/>
<line x1="103.16" y1="248.18" x2="103.16" y2="242.68" stroke="#000" stroke-width="1"/>
<line x1="124.55" y1="248.18" x2="124.55" y2="245.68" stroke="#000" stroke-width="1"/>
<line x1="145.94" y1="248.18" x2="145.94" y2="242.68" stroke="#000" stroke-width="1"/>
<line x1="167.33" y1="248.18" x2="167.33" y2="245.68" stroke="#000" stroke-width="1"/>
<line x1="188.72" y1="248.18" x2="188.72" y2="242.68" stroke="#000" stroke-width="1"/>
<line x1="210.11" y1="248.18" x2="210.11" y2="245.68" stroke="#000" stroke-width="1"/>
<line x1="231.50" y1="248.18" x2="231.50" y2="242.68" stroke="#000" stroke-width="1"/>
<line x1="17.6" y1="241.08" x2="20.900000000000002" y2="241.08" stroke="#000" stroke-width="1"/>
<line x1="17.6" y1="233.98" x2="23.900000000000002" y2="233.98" stroke="#000" stroke-width="1"/>
<line x1="17.6" y1="226.88" x2="20.900000000000002" y2="226.88" stroke="#000" stroke-width="1"/>
<line x1="17.6" y1="276.57" x2="231.5" y2="276.57" stroke="#000" stroke-width="1.1"/>
<line x1="17.60" y1="276.57" x2="17.60" y2="271.07" stroke="#000" stroke-width="1"/>
<line x1="38.99" y1="276.57" x2="38.99" y2="274.07" stroke="#000" stroke-width="1"/>
<line x1="60.38" y1="276.57" x2="60.38" y2="271.07" stroke="#000" stroke-width="1"/>
<line x1="81.77" y1="276.57" x2="81.77" y2="274.07" stroke="#000" stroke-width="1"/>
<line x1="103.16" y1="276.57" x2="103.16" y2="271.07" stroke="#000" stroke-width="1"/>
<line x1="124.55" y1="276.57" x2="124.55" y2="274.07" stroke="#000" stroke-width="1"/>
<line x1="145.94" y1="276.57" x2="145.94" y2="271.07" stroke="#000" stroke-width="1"/>
<line x1="167.33" y1="276.57" x2="167.33" y2="274.07" stroke="#000" stroke-width="1"/>
<line x1="188.72" y1="276.57" x2="188.72" y2="271.07" stroke="#000" stroke-width="1"/>
<line x1="210.11" y1="276.57" x2="210.11" y2="274.07" stroke="#000" stroke-width="1"/>
<line x1="231.50" y1="276.57" x2="231.50" y2="271.07" stroke="#000" stroke-width="1"/>
<line x1="17.6" y1="269.47" x2="20.900000000000002" y2="269.47" stroke="#000" stroke-width="1"/>
<line x1="17.6" y1="262.37" x2="23.900000000000002" y2="262.37" stroke="#000" stroke-width="1"/>
<line x1="17.6" y1="255.27" x2="20.900000000000002" y2="255.27" stroke="#000" stroke-width="1"/>
<path d="M17.6,276.57 L17.6,18.6 L231.5,18.6 L231.5,276.57" fill="none" stroke="#3a3a3a" stroke-width="1.1" stroke-linejoin="miter"/>
<line x1="34.8" y1="53.45" x2="34.8" y2="272.57" stroke="#444" stroke-width="1.3" stroke-dasharray="6,3"/>
<path d="M32.90,54.05 L34.8,50.35 L36.70,54.05 Z" fill="#222"/>
<path d="M32.80,271.57 L34.8,275.67 L36.80,271.57 Z" fill="#222"/>
<text x="36.1" y="31.9" font-size="10.6" fill="#111" stroke="#111" stroke-width="0.25">IF</text>
<text x="26.3" y="151.0" font-size="10.7" fill="#111" stroke="#111" stroke-width="0.25">STO</text>
<rect x="125.9" y="21.6" width="32.4" height="24.6" fill="#fff" stroke="#222" stroke-width="1"/>
<line x1="129.4" y1="26.400000000000002" x2="142.5" y2="26.400000000000002" stroke="#6adcd2" stroke-width="1.2"/>
<line x1="129.4" y1="33.6" x2="138.1" y2="33.6" stroke="#7c2898" stroke-width="1.3"/>
<line x1="140.9" y1="33.6" x2="141.9" y2="33.6" stroke="#7c2898" stroke-width="1.3"/>
<line x1="129.4" y1="41.0" x2="142.5" y2="41.0" stroke="#000" stroke-width="1.3"/>
<text x="148.70000000000002" y="28.2" font-size="6.9" fill="#2a2a2a">xz</text>
<text x="148.70000000000002" y="35.300000000000004" font-size="6.9" fill="#2a2a2a">yz</text>
<text x="148.70000000000002" y="42.6" font-size="6.9" fill="#2a2a2a">xy</text>
<text x="14.100000000000001" y="279.97" font-size="8" text-anchor="end" fill="#111" stroke="#111" stroke-width="0.25">0</text>
<text x="14.100000000000001" y="265.77" font-size="8" text-anchor="end" fill="#111" stroke="#111" stroke-width="0.25">1</text>
<text x="14.100000000000001" y="251.57" font-size="8" text-anchor="end" fill="#111" stroke="#111" stroke-width="0.25">2</text>
<text x="17.60" y="286.0" font-size="8" text-anchor="middle" fill="#111" stroke="#111" stroke-width="0.25">-2</text>
<text x="60.38" y="286.0" font-size="8" text-anchor="middle" fill="#111" stroke="#111" stroke-width="0.25">-1</text>
<text x="103.16" y="286.0" font-size="8" text-anchor="middle" fill="#111" stroke="#111" stroke-width="0.25">0</text>
<text x="145.94" y="286.0" font-size="8" text-anchor="middle" fill="#111" stroke="#111" stroke-width="0.25">1</text>
<text x="188.72" y="286.0" font-size="8" text-anchor="middle" fill="#111" stroke="#111" stroke-width="0.25">2</text>
<text x="231.50" y="286.0" font-size="8" text-anchor="middle" fill="#111" stroke="#111" stroke-width="0.25">3</text>
<text x="124.55" y="297.1" font-size="12" text-anchor="middle" fill="#111" stroke="#111" stroke-width="0.25">Energy (eV)</text>
<text x="76.6" y="10.9" font-size="12" textLength="38.0" lengthAdjust="spacingAndGlyphs" fill="#111" stroke="#111" stroke-width="0.25">(LAO)</text>
<text x="115.8" y="12.7" font-size="9.3" fill="#111" stroke="#111" stroke-width="0.25">1</text>
<text x="120.2" y="10.9" font-size="12" textLength="39.6" lengthAdjust="spacingAndGlyphs" fill="#111" stroke="#111" stroke-width="0.25">/(STO)</text>
<text x="161.6" y="14.7" font-size="10" fill="#111" stroke="#111" stroke-width="0.25">9</text>
<line x1="328.74" y1="18.6" x2="328.74" y2="276.57" stroke="#7e3a6a" stroke-width="1.2" stroke-dasharray="4.5,1.9"/>
<clipPath id="c1_0"><rect x="243.7" y="18.6" width="212.60" height="31.85"/></clipPath>
<path d="M330.00,48.92 L332.67,49.10 L335.33,48.74 L338.00,49.06 L340.48,47.83 L342.95,47.80 L345.42,46.33 L347.90,46.65 L350.40,44.77 L352.90,45.28 L355.40,43.85 L357.90,44.50 L360.40,42.20 L362.90,42.29 L365.40,40.49 L367.90,40.24 L370.85,36.91 L373.80,35.71 L376.47,34.05 L379.13,34.65 L381.80,33.56 L384.47,32.95 L387.13,31.00 L389.80,30.50 L392.30,25.17 L394.80,21.39 L396.80,22.63 L398.80,25.46 L401.80,28.32 L404.75,31.37 L407.70,32.44 L410.20,35.95 L412.70,37.60 L415.20,41.85 L417.70,44.26 L420.70,47.07 L423.70,47.42 L426.42,48.50 L429.13,47.69 L431.85,48.45 L434.57,48.09 L437.28,48.68 L440.00,48.24 L442.67,48.84 L445.33,48.30 L448.00,48.91 L450.67,48.42 L453.33,48.96 L456.00,48.80" fill="none" stroke="#6adcd2" stroke-width="0.85" clip-path="url(#c1_0)"/>
<path d="M328.00,48.91 L330.50,49.02 L333.00,48.32 L335.50,48.86 L338.00,47.84 L339.97,47.77 L341.93,45.19 L343.90,45.57 L346.40,43.52 L348.90,43.52 L351.40,43.04 L353.90,44.83 L356.40,41.46 L358.90,41.44 L361.15,40.12 L363.40,41.22 L365.65,39.69 L367.90,40.34 L370.35,36.00 L372.80,33.55 L375.30,32.77 L377.80,34.95 L380.30,32.54 L382.80,32.95 L385.30,30.31 L387.80,30.91 L389.80,26.64 L391.80,25.43 L394.80,21.25 L396.80,24.41 L398.80,25.67 L400.80,27.58 L402.80,27.17 L404.75,29.69 L406.70,29.55 L408.70,32.87 L410.70,33.08 L412.70,37.48 L414.70,39.38 L416.70,43.69 L418.70,44.99 L421.20,47.51 L423.70,47.91 L426.03,48.85 L428.37,47.89 L430.70,48.75 L432.70,46.83 L434.70,47.55 L437.15,46.39 L439.60,47.61 L442.10,46.98 L444.60,48.62 L446.88,47.97 L449.16,48.80 L451.44,48.41 L453.72,49.05 L456.00,48.90" fill="none" stroke="#7c2898" stroke-width="1.35" stroke-dasharray="6.5,2.2" stroke-linejoin="round" clip-path="url(#c1_0)"/>
<path d="M243.70,49.45 L328.20,49.45 L329.70,41.95 L331.70,31.95 L333.00,25.45 L333.70,28.95 L335.70,38.95 L337.70,48.95 L337.80,49.45 L358.30,49.45 L359.70,39.90 L361.70,26.27 L363.70,12.63 L364.90,4.45 L365.70,9.90 L367.70,23.54 L369.70,37.18 L371.50,49.45 L428.70,49.45 L429.70,49.10 L431.70,48.40 L433.70,47.70 L434.70,47.35 L435.70,47.70 L437.70,48.40 L439.70,49.10 L440.70,49.45 L455.70,49.45" fill="none" stroke="#000" stroke-width="1.35" stroke-linejoin="round" clip-path="url(#c1_0)"/>
<path d="M380.70,49.45 L386.60,27.00 L391.40,40.00 L394.30,10.00 L396.20,8.00 L398.20,10.00 L403.60,48.90 L404.70,49.45 L412.10,30.00 L416.40,49.45" fill="none" stroke="#000" stroke-width="1.35" stroke-linejoin="round" clip-path="url(#c1_0)"/>
<clipPath id="c1_1"><rect x="243.7" y="49.45" width="212.60" height="29.39"/></clipPath>
<path d="M328.80,76.69 L331.47,76.73 L334.13,74.84 L336.80,75.32 L339.75,72.49 L342.70,71.22 L345.70,68.81 L348.70,67.67 L351.20,67.86 L353.70,69.78 L356.70,70.22 L359.70,72.38 L362.70,72.75 L365.70,75.61 L368.70,70.16 L371.70,66.44 L373.65,64.02 L375.60,63.94 L378.10,67.18 L380.60,72.59 L380.80,71.38 L382.80,71.52 L384.80,69.92 L386.80,69.98 L388.80,67.65 L391.80,65.38 L393.80,57.20 L396.30,53.98 L397.80,57.07 L399.80,61.65 L402.80,60.28 L405.80,60.48 L407.80,60.26 L409.80,65.56 L411.80,64.03 L413.80,67.13 L415.80,66.16 L418.80,70.51 L421.80,72.47 L423.80,75.23 L425.80,75.78 L427.80,77.05 L429.80,77.51" fill="none" stroke="#6adcd2" stroke-width="0.85" clip-path="url(#c1_1)"/>
<path d="M328.00,76.43 L330.67,76.52 L333.33,74.51 L336.00,75.73 L337.97,72.84 L339.93,72.89 L341.90,70.34 L343.90,69.97 L345.90,67.69 L347.90,67.68 L350.40,67.39 L352.90,69.76 L354.90,69.43 L356.90,71.25 L358.90,71.42 L360.90,73.63 L362.90,73.24 L364.90,75.43 L366.90,71.30 L368.90,69.61 L370.90,65.31 L372.85,64.86 L374.80,62.30 L377.30,67.87 L379.80,71.40 L380.00,72.86 L382.00,70.23 L384.00,70.76 L386.00,68.10 L388.00,68.58 L391.00,64.43 L393.00,57.60 L395.50,51.41 L397.00,58.76 L399.00,60.17 L402.00,60.63 L405.00,58.83 L407.00,61.55 L409.00,63.66 L411.00,64.78 L413.00,65.67 L415.00,67.69 L418.00,69.58 L421.00,73.35 L423.00,74.06 L425.00,76.34 L427.00,76.52 L429.00,77.50" fill="none" stroke="#7c2898" stroke-width="1.35" stroke-dasharray="6.5,2.2" stroke-linejoin="round" clip-path="url(#c1_1)"/>
<path d="M243.70,77.84 L335.30,77.84 L335.70,76.48 L337.70,69.68 L339.70,62.88 L341.30,57.44 L341.70,58.80 L343.70,65.60 L345.70,72.40 L347.30,77.84 L368.20,77.84 L369.70,69.09 L371.70,57.42 L373.70,45.76 L374.20,42.84 L375.70,51.59 L377.70,63.26 L379.70,74.92 L380.20,77.84 L455.70,77.84" fill="none" stroke="#000" stroke-width="1.35" stroke-linejoin="round" clip-path="url(#c1_1)"/>
<path d="M390.10,77.84 L394.40,55.00 L399.10,69.90 L402.80,45.00 L408.20,45.00 L411.90,75.20 L414.00,75.70 L418.00,70.00 L422.60,63.00 L425.50,69.00 L428.90,77.84" fill="none" stroke="#000" stroke-width="1.35" stroke-linejoin="round" clip-path="url(#c1_1)"/>
<clipPath id="c1_2"><rect x="243.7" y="77.84" width="212.60" height="29.39"/></clipPath>
<path d="M329.80,102.53 L332.30,102.85 L334.80,101.30 L337.30,101.24 L339.80,99.56 L343.70,97.12 L346.20,97.80 L348.70,100.78 L351.70,101.95 L354.70,105.23 L357.20,103.13 L359.70,102.79 L362.20,100.64 L364.70,100.53 L367.20,96.60 L369.70,95.27 L372.70,88.43 L375.60,93.84 L377.60,95.35 L379.60,98.45 L382.80,100.91 L384.80,100.79 L386.80,98.60 L389.80,100.83 L392.30,96.78 L393.80,93.27 L395.80,83.21 L397.30,83.51 L398.80,84.32 L400.80,86.41 L402.80,83.87 L404.80,87.32 L406.80,87.15 L408.80,93.22 L410.80,93.43 L412.80,94.96 L414.30,93.07 L416.80,96.30 L419.80,98.55 L422.80,100.87 L425.80,101.33 L427.80,103.65 L429.80,103.52 L432.80,105.80" fill="none" stroke="#6adcd2" stroke-width="0.85" clip-path="url(#c1_2)"/>
<path d="M329.00,102.48 L331.50,103.13 L334.00,101.46 L336.50,101.69 L339.00,99.18 L340.95,98.47 L342.90,95.17 L345.40,98.59 L347.90,99.55 L349.90,102.24 L351.90,102.51 L353.90,105.34 L356.40,102.50 L358.90,102.70 L361.40,100.33 L363.90,100.37 L366.40,96.99 L368.90,95.75 L371.90,87.23 L374.80,93.72 L376.80,94.84 L378.80,98.55 L382.00,101.03 L384.00,100.92 L386.00,98.58 L389.00,100.73 L391.50,96.27 L393.00,92.76 L395.00,83.51 L396.50,82.38 L398.00,83.46 L400.00,86.27 L402.00,82.84 L404.00,86.81 L406.00,87.39 L408.00,92.58 L410.00,92.09 L412.00,94.93 L413.50,93.54 L416.00,96.71 L419.00,98.26 L422.00,101.11 L425.00,101.31 L427.00,103.61 L429.00,103.24 L432.00,105.80" fill="none" stroke="#7c2898" stroke-width="1.35" stroke-dasharray="6.5,2.2" stroke-linejoin="round" clip-path="url(#c1_2)"/>
<path d="M243.70,106.23 L337.50,106.23 L337.70,105.64 L339.70,99.78 L341.70,93.91 L343.50,88.63 L343.70,89.22 L345.70,95.08 L347.70,100.95 L349.50,106.23 L367.90,106.23 L369.70,96.32 L371.70,85.30 L373.70,74.29 L374.80,68.23 L375.70,73.19 L377.70,84.20 L379.70,95.22 L381.70,106.23 L431.80,106.23 L433.70,105.47 L434.80,105.03 L435.70,105.39 L437.70,106.19 L437.80,106.23 L455.70,106.23" fill="none" stroke="#000" stroke-width="1.35" stroke-linejoin="round" clip-path="url(#c1_2)"/>
<path d="M390.60,106.23 L396.50,86.10 L399.10,95.70 L405.40,76.00 L410.00,76.00 L414.00,104.70 L416.50,100.50 L419.50,97.00 L423.60,95.70 L427.00,97.50 L432.10,106.23" fill="none" stroke="#000" stroke-width="1.35" stroke-linejoin="round" clip-path="url(#c1_2)"/>
<clipPath id="c1_3"><rect x="243.7" y="106.23" width="212.60" height="29.39"/></clipPath>
<path d="M329.80,131.04 L332.30,132.03 L334.80,130.75 L337.30,130.53 L339.80,128.41 L342.25,128.88 L344.70,127.56 L347.20,129.80 L349.70,130.48 L352.20,130.89 L354.70,129.76 L357.20,129.97 L359.70,127.90 L362.70,129.55 L365.70,129.29 L368.70,129.00 L371.70,126.66 L373.65,125.49 L375.60,122.19 L378.10,124.08 L380.60,124.17 L380.80,124.29 L383.80,125.26 L386.80,127.03 L389.80,126.72 L391.80,130.39 L393.80,125.40 L395.80,121.74 L397.80,112.21 L399.80,109.75 L401.30,105.73 L402.80,110.46 L404.80,116.83 L406.80,116.24 L408.80,111.99 L410.80,115.59 L412.80,117.30 L414.80,123.84 L417.30,123.17 L419.80,124.96 L421.80,124.23 L423.80,126.55 L426.80,127.95 L429.80,131.38 L432.80,133.99" fill="none" stroke="#6adcd2" stroke-width="0.85" clip-path="url(#c1_3)"/>
<path d="M329.00,130.84 L331.50,132.22 L334.00,130.61 L336.50,130.90 L339.00,128.34 L341.45,128.68 L343.90,127.08 L346.40,129.70 L348.90,130.23 L351.40,131.20 L353.90,128.91 L356.40,129.40 L358.90,127.82 L360.90,129.20 L362.90,128.40 L364.90,130.14 L366.90,128.33 L368.90,128.19 L370.90,126.39 L372.85,125.52 L374.80,122.46 L377.30,123.99 L379.80,123.10 L380.00,124.79 L383.00,125.41 L386.00,127.34 L389.00,126.80 L391.00,130.86 L393.00,125.51 L395.00,120.56 L397.00,112.30 L399.00,108.94 L400.50,104.27 L402.00,110.63 L404.00,116.51 L406.00,115.51 L408.00,112.53 L410.00,115.97 L412.00,116.10 L414.00,123.91 L416.50,123.33 L419.00,124.79 L421.00,124.48 L423.00,126.64 L426.00,127.58 L429.00,131.60 L432.00,134.00" fill="none" stroke="#7c2898" stroke-width="1.35" stroke-dasharray="6.5,2.2" stroke-linejoin="round" clip-path="url(#c1_3)"/>
<path d="M243.70,134.62 L338.50,134.62 L339.70,131.16 L341.70,125.39 L343.70,119.63 L344.50,117.32 L345.70,120.78 L347.70,126.55 L349.70,132.31 L350.50,134.62 L369.90,134.62 L371.70,125.23 L373.70,114.79 L375.70,104.36 L376.80,98.62 L377.70,103.32 L379.70,113.75 L381.70,124.19 L383.70,134.62 L455.70,134.62" fill="none" stroke="#000" stroke-width="1.35" stroke-linejoin="round" clip-path="url(#c1_3)"/>
<path d="M391.70,134.62 L397.60,115.20 L401.80,126.30 L407.40,100.00 L411.20,100.00 L414.60,131.70 L415.80,134.62 L418.00,131.00 L422.60,125.30 L426.80,126.30 L430.00,129.00 L434.30,134.62" fill="none" stroke="#000" stroke-width="1.35" stroke-linejoin="round" clip-path="url(#c1_3)"/>
<clipPath id="c1_4"><rect x="243.7" y="134.62" width="212.60" height="29.39"/></clipPath>
<path d="M329.80,160.35 L332.30,161.10 L334.80,159.76 L337.30,161.16 L339.80,160.40 L342.25,159.40 L344.70,156.50 L347.20,156.97 L349.70,155.96 L352.20,157.98 L354.70,158.23 L357.20,158.83 L359.70,157.49 L362.70,158.98 L365.70,158.88 L368.70,159.81 L371.70,158.47 L373.65,156.20 L375.60,151.72 L377.60,152.31 L379.60,150.79 L380.80,155.51 L383.80,151.77 L385.80,154.66 L387.80,156.27 L389.80,159.91 L391.80,157.08 L393.80,155.76 L395.80,147.44 L397.80,139.94 L399.80,133.86 L401.80,138.34 L403.80,141.63 L405.80,140.71 L407.80,141.58 L409.80,144.33 L411.80,145.87 L413.80,149.77 L415.80,152.52 L417.80,154.93 L419.80,151.12 L421.80,153.87 L424.80,155.73 L427.80,159.36 L430.80,160.41 L432.80,162.52" fill="none" stroke="#6adcd2" stroke-width="0.85" clip-path="url(#c1_4)"/>
<path d="M329.00,159.95 L331.50,161.59 L334.00,159.70 L336.50,161.17 L339.00,160.36 L341.45,159.69 L343.90,156.05 L346.40,157.04 L348.90,156.07 L351.40,158.41 L353.90,158.10 L356.40,158.95 L358.90,157.36 L360.90,159.11 L362.90,157.95 L364.90,160.00 L366.90,158.59 L368.90,159.57 L370.90,158.17 L372.85,156.13 L374.80,151.31 L376.80,152.03 L378.80,150.23 L380.00,155.49 L383.00,151.56 L385.00,154.69 L387.00,156.61 L389.00,159.71 L391.00,156.15 L393.00,155.86 L395.00,146.51 L397.00,138.59 L399.00,134.07 L401.00,138.55 L403.00,140.03 L405.00,140.45 L407.00,140.13 L409.00,143.35 L411.00,145.24 L413.00,149.85 L415.00,152.32 L417.00,154.74 L419.00,150.08 L421.00,153.97 L424.00,155.56 L427.00,159.66 L430.00,160.65 L432.00,162.50" fill="none" stroke="#7c2898" stroke-width="1.35" stroke-dasharray="6.5,2.2" stroke-linejoin="round" clip-path="url(#c1_4)"/>
<path d="M243.70,163.01 L339.90,163.01 L341.70,157.61 L343.70,151.61 L345.70,145.61 L345.90,145.01 L347.70,150.41 L349.70,156.41 L351.70,162.41 L351.90,163.01 L372.00,163.01 L373.70,153.57 L375.70,142.45 L377.70,131.34 L379.20,123.01 L379.70,125.79 L381.70,136.90 L383.70,148.01 L385.70,159.12 L386.40,163.01 L455.70,163.01" fill="none" stroke="#000" stroke-width="1.35" stroke-linejoin="round" clip-path="url(#c1_4)"/>
<path d="M393.80,163.01 L399.70,141.50 L403.90,152.70 L408.80,130.00 L412.80,130.00 L417.80,161.70 L419.00,163.01 L425.20,152.10 L428.00,154.50 L435.30,163.01" fill="none" stroke="#000" stroke-width="1.35" stroke-linejoin="round" clip-path="url(#c1_4)"/>
<clipPath id="c1_5"><rect x="243.7" y="163.01" width="212.60" height="29.39"/></clipPath>
<path d="M329.80,189.53 L332.30,190.00 L334.80,188.38 L337.30,188.74 L339.80,186.64 L342.25,186.92 L344.70,184.93 L346.70,186.37 L348.70,186.28 L351.70,187.78 L354.70,187.18 L357.20,187.95 L359.70,186.27 L362.20,186.43 L364.70,184.88 L367.70,186.15 L370.70,185.24 L373.15,183.93 L375.60,180.77 L378.10,182.53 L380.60,182.42 L380.80,182.37 L382.80,183.92 L384.80,186.59 L386.80,183.77 L389.80,184.91 L392.80,176.53 L394.30,176.55 L395.80,178.14 L397.80,177.07 L399.80,172.25 L401.80,169.99 L403.80,170.96 L405.80,169.25 L407.80,165.25 L409.30,165.42 L410.80,168.45 L412.80,172.92 L414.80,176.38 L416.80,178.18 L418.80,177.53 L420.80,180.11 L423.80,181.33 L426.80,185.74 L429.80,186.63 L432.80,189.42 L435.80,190.84" fill="none" stroke="#6adcd2" stroke-width="0.85" clip-path="url(#c1_5)"/>
<path d="M329.00,189.08 L331.50,189.85 L334.00,187.96 L336.50,188.94 L339.00,186.67 L341.45,187.02 L343.90,184.66 L345.90,186.43 L347.90,186.25 L349.90,187.95 L351.90,187.05 L353.90,188.55 L356.40,186.75 L358.90,187.23 L361.40,185.40 L363.90,185.78 L365.90,184.78 L367.90,186.50 L369.90,184.88 L372.35,183.82 L374.80,179.93 L377.30,182.57 L379.80,181.85 L380.00,182.86 L382.00,183.33 L384.00,186.49 L386.00,183.07 L389.00,184.97 L392.00,176.27 L393.50,176.40 L395.00,177.14 L397.00,176.82 L399.00,171.10 L401.00,170.96 L403.00,171.04 L405.00,168.80 L407.00,165.42 L408.50,165.67 L410.00,167.35 L412.00,172.82 L414.00,175.27 L416.00,178.86 L418.00,177.34 L420.00,180.71 L423.00,181.05 L426.00,185.84 L429.00,186.07 L432.00,189.78 L435.00,190.80" fill="none" stroke="#7c2898" stroke-width="1.35" stroke-dasharray="6.5,2.2" stroke-linejoin="round" clip-path="url(#c1_5)"/>
<path d="M243.70,191.40 L341.30,191.40 L341.70,190.31 L343.70,184.88 L345.70,179.45 L347.30,175.10 L347.70,176.19 L349.70,181.62 L351.70,187.05 L353.30,191.40 L372.90,191.40 L373.70,186.76 L375.70,175.17 L377.70,163.57 L379.70,151.98 L379.80,151.40 L381.70,162.41 L383.70,174.01 L385.70,185.60 L386.70,191.40 L455.70,191.40" fill="none" stroke="#000" stroke-width="1.35" stroke-linejoin="round" clip-path="url(#c1_5)"/>
<path d="M393.80,191.40 L400.70,171.60 L403.90,180.70 L410.20,158.00 L414.60,158.00 L417.80,189.70 L419.00,191.40 L424.70,182.30 L432.10,183.30 L438.00,191.40" fill="none" stroke="#000" stroke-width="1.35" stroke-linejoin="round" clip-path="url(#c1_5)"/>
<clipPath id="c1_6"><rect x="243.7" y="191.39999999999998" width="212.60" height="29.39"/></clipPath>
<path d="M330.80,219.47 L333.80,218.81 L336.80,216.49 L339.25,216.87 L341.70,215.59 L344.20,216.16 L346.70,214.78 L348.70,214.62 L350.70,212.02 L353.70,211.05 L355.70,211.88 L357.70,214.64 L360.20,215.08 L362.70,217.30 L365.20,217.44 L367.70,219.25 L370.20,216.01 L372.70,214.57 L375.15,208.10 L377.60,203.50 L380.80,208.05 L383.80,211.43 L386.80,213.44 L389.80,217.55 L391.80,212.50 L393.80,215.51 L395.80,209.51 L397.80,206.33 L399.80,199.27 L401.80,197.70 L403.30,195.62 L404.80,201.78 L406.80,197.20 L408.80,196.87 L410.80,199.65 L412.80,203.33 L414.80,204.87 L416.80,207.54 L418.80,209.16 L420.80,211.94 L422.80,212.06 L424.80,214.35 L427.80,215.40 L430.80,218.64 L433.80,219.51" fill="none" stroke="#6adcd2" stroke-width="0.85" clip-path="url(#c1_6)"/>
<path d="M330.00,219.39 L332.00,219.16 L334.00,217.43 L336.00,217.84 L338.45,215.54 L340.90,216.26 L343.40,214.85 L345.90,216.35 L347.90,213.25 L349.90,212.86 L352.90,209.34 L354.90,212.52 L356.90,213.15 L359.40,216.17 L361.90,216.09 L364.40,218.38 L366.90,218.62 L369.40,216.81 L371.90,213.40 L374.35,209.09 L376.80,202.63 L380.00,208.55 L383.00,210.15 L386.00,214.44 L389.00,216.39 L391.00,213.35 L393.00,214.20 L395.00,210.39 L397.00,204.56 L399.00,200.81 L401.00,196.39 L402.50,196.68 L404.00,199.28 L406.00,198.65 L408.00,196.40 L410.00,199.42 L412.00,201.58 L414.00,205.46 L416.00,206.52 L418.00,209.53 L420.00,210.10 L422.00,212.46 L424.00,213.59 L427.00,216.50 L430.00,217.63 L433.00,219.50" fill="none" stroke="#7c2898" stroke-width="1.35" stroke-dasharray="6.5,2.2" stroke-linejoin="round" clip-path="url(#c1_6)"/>
<path d="M243.70,219.79 L340.50,219.79 L341.70,216.27 L343.70,210.40 L345.70,204.54 L346.50,202.19 L347.70,205.71 L349.70,211.58 L351.70,217.44 L352.50,219.79 L372.50,219.79 L373.70,212.83 L375.70,201.24 L377.70,189.65 L379.40,179.79 L379.70,181.53 L381.70,193.12 L383.70,204.72 L385.70,216.31 L386.30,219.79 L455.70,219.79" fill="none" stroke="#000" stroke-width="1.35" stroke-linejoin="round" clip-path="url(#c1_6)"/>
<path d="M392.80,219.79 L400.20,199.60 L403.90,211.90 L408.90,186.00 L413.20,186.00 L417.80,218.30 L419.00,219.79 L425.20,208.70 L427.30,210.30 L431.60,211.90 L437.40,219.79" fill="none" stroke="#000" stroke-width="1.35" stroke-linejoin="round" clip-path="url(#c1_6)"/>
<clipPath id="c1_7"><rect x="243.7" y="219.79000000000002" width="212.60" height="29.39"/></clipPath>
<path d="M330.80,247.74 L333.13,247.32 L335.47,246.04 L337.80,246.25 L340.25,242.88 L342.70,241.33 L344.70,239.97 L346.70,241.00 L349.20,240.97 L351.70,242.60 L354.70,240.33 L357.70,240.37 L360.20,240.60 L362.70,242.67 L365.20,241.83 L367.70,243.47 L370.20,241.98 L372.70,242.45 L375.15,239.40 L377.60,238.64 L380.80,234.53 L382.80,240.46 L384.80,242.41 L386.80,240.80 L388.80,241.33 L390.80,244.48 L393.80,244.81 L395.80,242.16 L397.80,233.28 L399.80,228.25 L402.80,225.01 L404.80,225.02 L406.80,224.22 L408.80,229.75 L410.80,227.62 L412.80,229.30 L414.80,230.88 L416.80,235.13 L418.80,238.10 L420.80,240.34 L422.80,240.31 L424.80,241.06 L427.80,240.51 L430.80,244.41 L433.80,245.65 L436.80,247.80" fill="none" stroke="#6adcd2" stroke-width="0.85" clip-path="url(#c1_7)"/>
<path d="M330.00,247.71 L332.33,247.50 L334.67,245.65 L337.00,246.55 L339.45,242.66 L341.90,241.33 L343.90,239.94 L345.90,240.87 L348.40,240.23 L350.90,242.69 L352.90,240.72 L354.90,241.45 L356.90,238.99 L359.40,241.56 L361.90,241.67 L364.40,242.95 L366.90,242.09 L369.40,243.22 L371.90,241.00 L374.35,240.27 L376.80,237.33 L380.00,235.37 L382.00,239.57 L384.00,243.65 L386.00,239.58 L388.00,242.50 L390.00,243.52 L393.00,245.60 L395.00,240.12 L397.00,234.48 L399.00,227.28 L402.00,225.59 L404.00,223.49 L406.00,225.52 L408.00,227.17 L410.00,227.87 L412.00,227.20 L414.00,231.90 L416.00,233.20 L418.00,238.52 L420.00,239.52 L422.00,241.69 L424.00,239.28 L427.00,241.84 L430.00,243.09 L433.00,246.84 L436.00,247.80" fill="none" stroke="#7c2898" stroke-width="1.35" stroke-dasharray="6.5,2.2" stroke-linejoin="round" clip-path="url(#c1_7)"/>
<path d="M243.70,248.18 L341.90,248.18 L343.70,239.71 L345.70,230.31 L347.30,222.78 L347.70,224.66 L349.70,234.07 L351.70,243.48 L352.70,248.18 L373.20,248.18 L373.70,245.15 L375.70,233.03 L377.70,220.91 L379.70,208.79 L379.80,208.18 L381.70,219.70 L383.70,231.82 L385.70,243.94 L386.40,248.18 L455.70,248.18" fill="none" stroke="#000" stroke-width="1.35" stroke-linejoin="round" clip-path="url(#c1_7)"/>
<path d="M395.40,248.18 L400.70,221.20 L405.50,244.60 L408.70,220.00 L409.20,214.00 L414.20,214.00 L414.60,220.00 L416.70,243.50 L421.00,246.20 L428.40,234.50 L433.20,244.60 L437.40,248.18" fill="none" stroke="#000" stroke-width="1.35" stroke-linejoin="round" clip-path="url(#c1_7)"/>
<clipPath id="c1_8"><rect x="243.7" y="248.18" width="212.60" height="29.39"/></clipPath>
<path d="M340.00,276.48 L342.50,276.25 L345.00,275.77 L347.50,275.72 L350.00,274.84 L352.50,275.49 L355.00,273.90 L357.50,274.90 L360.00,273.43 L362.50,274.16 L365.00,272.63 L367.50,273.21 L370.00,271.93 L372.50,272.08 L375.00,270.69 L377.50,271.59 L380.00,269.77 L382.40,270.02 L384.80,267.76 L387.20,267.53 L389.60,265.42 L392.00,265.51 L394.67,262.65 L397.33,262.31 L400.00,259.36 L402.50,258.57 L405.00,255.35 L408.70,253.26 L412.00,254.39 L415.00,257.26 L418.00,257.95 L420.50,261.49 L423.00,262.31 L425.50,266.36 L428.00,267.95 L431.00,271.37 L434.00,272.83 L436.75,274.58 L439.50,274.35 L442.25,275.78 L445.00,276.00" fill="none" stroke="#6adcd2" stroke-width="0.85" clip-path="url(#c1_8)"/>
<path d="M329.90,276.49 L332.26,276.48 L334.62,276.24 L336.98,276.35 L339.34,276.08 L341.70,276.21 L344.18,275.71 L346.65,275.83 L349.12,275.07 L351.60,275.75 L354.05,274.40 L356.50,274.95 L358.95,273.27 L361.40,274.82 L363.88,273.16 L366.35,273.73 L368.82,271.88 L371.30,273.08 L373.93,271.10 L376.57,271.94 L379.20,269.75 L380.00,270.36 L383.00,267.71 L386.00,269.85 L389.00,269.38 L391.00,267.55 L393.00,263.21 L395.00,265.97 L397.00,262.06 L399.00,265.46 L401.00,260.18 L403.00,259.64 L405.00,256.53 L407.00,255.96 L409.00,253.36 L411.00,253.91 L413.00,253.60 L415.00,256.40 L417.00,257.41 L419.00,261.94 L421.00,262.52 L424.00,265.61 L426.00,260.27 L429.00,266.55 L432.00,269.16 L435.00,272.44 L438.00,273.29 L440.00,275.37 L442.00,275.32 L444.00,276.14 L446.00,276.00 L448.00,276.50" fill="none" stroke="#7c2898" stroke-width="1.35" stroke-dasharray="6.5,2.2" stroke-linejoin="round" clip-path="url(#c1_8)"/>
<path d="M243.70,276.57 L350.70,276.57 L351.70,269.49 L353.70,255.32 L355.50,242.57 L355.70,243.99 L357.70,258.15 L359.70,272.32 L360.30,276.57 L455.70,276.57" fill="none" stroke="#000" stroke-width="1.35" stroke-linejoin="round" clip-path="url(#c1_8)"/>
<path d="M383.20,276.57 L383.60,274.00 L387.40,240.00 L389.90,240.00 L392.80,274.50 L394.00,276.57 L405.50,276.57 L410.10,243.00 L413.50,269.90 L414.00,270.00 L417.00,240.00 L420.80,240.00 L423.60,274.20 L425.70,276.57 L434.30,276.57 L436.50,275.00 L438.50,276.57" fill="none" stroke="#000" stroke-width="1.35" stroke-linejoin="round" clip-path="url(#c1_8)"/>
<line x1="243.7" y1="49.45" x2="456.3" y2="49.45" stroke="#000" stroke-width="1.1"/>
<line x1="243.70" y1="49.45" x2="243.70" y2="43.95" stroke="#000" stroke-width="1"/>
<line x1="264.96" y1="49.45" x2="264.96" y2="46.95" stroke="#000" stroke-width="1"/>
<line x1="286.22" y1="49.45" x2="286.22" y2="43.95" stroke="#000" stroke-width="1"/>
<line x1="307.48" y1="49.45" x2="307.48" y2="46.95" stroke="#000" stroke-width="1"/>
<line x1="328.74" y1="49.45" x2="328.74" y2="43.95" stroke="#000" stroke-width="1"/>
<line x1="350.00" y1="49.45" x2="350.00" y2="46.95" stroke="#000" stroke-width="1"/>
<line x1="371.26" y1="49.45" x2="371.26" y2="43.95" stroke="#000" stroke-width="1"/>
<line x1="392.52" y1="49.45" x2="392.52" y2="46.95" stroke="#000" stroke-width="1"/>
<line x1="413.78" y1="49.45" x2="413.78" y2="43.95" stroke="#000" stroke-width="1"/>
<line x1="435.04" y1="49.45" x2="435.04" y2="46.95" stroke="#000" stroke-width="1"/>
<line x1="456.30" y1="49.45" x2="456.30" y2="43.95" stroke="#000" stroke-width="1"/>
<line x1="243.7" y1="41.75" x2="247.0" y2="41.75" stroke="#000" stroke-width="1"/>
<line x1="243.7" y1="34.05" x2="250.0" y2="34.05" stroke="#000" stroke-width="1"/>
<line x1="243.7" y1="26.35" x2="247.0" y2="26.35" stroke="#000" stroke-width="1"/>
<line x1="243.7" y1="77.84" x2="456.3" y2="77.84" stroke="#000" stroke-width="1.1"/>
<line x1="243.70" y1="77.84" x2="243.70" y2="72.34" stroke="#000" stroke-width="1"/>
<line x1="264.96" y1="77.84" x2="264.96" y2="75.34" stroke="#000" stroke-width="1"/>
<line x1="286.22" y1="77.84" x2="286.22" y2="72.34" stroke="#000" stroke-width="1"/>
<line x1="307.48" y1="77.84" x2="307.48" y2="75.34" stroke="#000" stroke-width="1"/>
<line x1="328.74" y1="77.84" x2="328.74" y2="72.34" stroke="#000" stroke-width="1"/>
<line x1="350.00" y1="77.84" x2="350.00" y2="75.34" stroke="#000" stroke-width="1"/>
<line x1="371.26" y1="77.84" x2="371.26" y2="72.34" stroke="#000" stroke-width="1"/>
<line x1="392.52" y1="77.84" x2="392.52" y2="75.34" stroke="#000" stroke-width="1"/>
<line x1="413.78" y1="77.84" x2="413.78" y2="72.34" stroke="#000" stroke-width="1"/>
<line x1="435.04" y1="77.84" x2="435.04" y2="75.34" stroke="#000" stroke-width="1"/>
<line x1="456.30" y1="77.84" x2="456.30" y2="72.34" stroke="#000" stroke-width="1"/>
<line x1="243.7" y1="70.74" x2="247.0" y2="70.74" stroke="#000" stroke-width="1"/>
<line x1="243.7" y1="63.64" x2="250.0" y2="63.64" stroke="#000" stroke-width="1"/>
<line x1="243.7" y1="56.54" x2="247.0" y2="56.54" stroke="#000" stroke-width="1"/>
<line x1="243.7" y1="106.23" x2="456.3" y2="106.23" stroke="#000" stroke-width="1.1"/>
<line x1="243.70" y1="106.23" x2="243.70" y2="100.73" stroke="#000" stroke-width="1"/>
<line x1="264.96" y1="106.23" x2="264.96" y2="103.73" stroke="#000" stroke-width="1"/>
<line x1="286.22" y1="106.23" x2="286.22" y2="100.73" stroke="#000" stroke-width="1"/>
<line x1="307.48" y1="106.23" x2="307.48" y2="103.73" stroke="#000" stroke-width="1"/>
<line x1="328.74" y1="106.23" x2="328.74" y2="100.73" stroke="#000" stroke-width="1"/>
<line x1="350.00" y1="106.23" x2="350.00" y2="103.73" stroke="#000" stroke-width="1"/>
<line x1="371.26" y1="106.23" x2="371.26" y2="100.73" stroke="#000" stroke-width="1"/>
<line x1="392.52" y1="106.23" x2="392.52" y2="103.73" stroke="#000" stroke-width="1"/>
<line x1="413.78" y1="106.23" x2="413.78" y2="100.73" stroke="#000" stroke-width="1"/>
<line x1="435.04" y1="106.23" x2="435.04" y2="103.73" stroke="#000" stroke-width="1"/>
<line x1="456.30" y1="106.23" x2="456.30" y2="100.73" stroke="#000" stroke-width="1"/>
<line x1="243.7" y1="99.13" x2="247.0" y2="99.13" stroke="#000" stroke-width="1"/>
<line x1="243.7" y1="92.03" x2="250.0" y2="92.03" stroke="#000" stroke-width="1"/>
<line x1="243.7" y1="84.93" x2="247.0" y2="84.93" stroke="#000" stroke-width="1"/>
<line x1="243.7" y1="134.62" x2="456.3" y2="134.62" stroke="#000" stroke-width="1.1"/>
<line x1="243.70" y1="134.62" x2="243.70" y2="129.12" stroke="#000" stroke-width="1"/>
<line x1="264.96" y1="134.62" x2="264.96" y2="132.12" stroke="#000" stroke-width="1"/>
<line x1="286.22" y1="134.62" x2="286.22" y2="129.12" stroke="#000" stroke-width="1"/>
<line x1="307.48" y1="134.62" x2="307.48" y2="132.12" stroke="#000" stroke-width="1"/>
<line x1="328.74" y1="134.62" x2="328.74" y2="129.12" stroke="#000" stroke-width="1"/>
<line x1="350.00" y1="134.62" x2="350.00" y2="132.12" stroke="#000" stroke-width="1"/>
<line x1="371.26" y1="134.62" x2="371.26" y2="129.12" stroke="#000" stroke-width="1"/>
<line x1="392.52" y1="134.62" x2="392.52" y2="132.12" stroke="#000" stroke-width="1"/>
<line x1="413.78" y1="134.62" x2="413.78" y2="129.12" stroke="#000" stroke-width="1"/>
<line x1="435.04" y1="134.62" x2="435.04" y2="132.12" stroke="#000" stroke-width="1"/>
<line x1="456.30" y1="134.62" x2="456.30" y2="129.12" stroke="#000" stroke-width="1"/>
<line x1="243.7" y1="127.52" x2="247.0" y2="127.52" stroke="#000" stroke-width="1"/>
<line x1="243.7" y1="120.42" x2="250.0" y2="120.42" stroke="#000" stroke-width="1"/>
<line x1="243.7" y1="113.32" x2="247.0" y2="113.32" stroke="#000" stroke-width="1"/>
<line x1="243.7" y1="163.01" x2="456.3" y2="163.01" stroke="#000" stroke-width="1.1"/>
<line x1="243.70" y1="163.01" x2="243.70" y2="157.51" stroke="#000" stroke-width="1"/>
<line x1="264.96" y1="163.01" x2="264.96" y2="160.51" stroke="#000" stroke-width="1"/>
<line x1="286.22" y1="163.01" x2="286.22" y2="157.51" stroke="#000" stroke-width="1"/>
<line x1="307.48" y1="163.01" x2="307.48" y2="160.51" stroke="#000" stroke-width="1"/>
<line x1="328.74" y1="163.01" x2="328.74" y2="157.51" stroke="#000" stroke-width="1"/>
<line x1="350.00" y1="163.01" x2="350.00" y2="160.51" stroke="#000" stroke-width="1"/>
<line x1="371.26" y1="163.01" x2="371.26" y2="157.51" stroke="#000" stroke-width="1"/>
<line x1="392.52" y1="163.01" x2="392.52" y2="160.51" stroke="#000" stroke-width="1"/>
<line x1="413.78" y1="163.01" x2="413.78" y2="157.51" stroke="#000" stroke-width="1"/>
<line x1="435.04" y1="163.01" x2="435.04" y2="160.51" stroke="#000" stroke-width="1"/>
<line x1="456.30" y1="163.01" x2="456.30" y2="157.51" stroke="#000" stroke-width="1"/>
<line x1="243.7" y1="155.91" x2="247.0" y2="155.91" stroke="#000" stroke-width="1"/>
<line x1="243.7" y1="148.81" x2="250.0" y2="148.81" stroke="#000" stroke-width="1"/>
<line x1="243.7" y1="141.71" x2="247.0" y2="141.71" stroke="#000" stroke-width="1"/>
<line x1="243.7" y1="191.40" x2="456.3" y2="191.40" stroke="#000" stroke-width="1.1"/>
<line x1="243.70" y1="191.40" x2="243.70" y2="185.90" stroke="#000" stroke-width="1"/>
<line x1="264.96" y1="191.40" x2="264.96" y2="188.90" stroke="#000" stroke-width="1"/>
<line x1="286.22" y1="191.40" x2="286.22" y2="185.90" stroke="#000" stroke-width="1"/>
<line x1="307.48" y1="191.40" x2="307.48" y2="188.90" stroke="#000" stroke-width="1"/>
<line x1="328.74" y1="191.40" x2="328.74" y2="185.90" stroke="#000" stroke-width="1"/>
<line x1="350.00" y1="191.40" x2="350.00" y2="188.90" stroke="#000" stroke-width="1"/>
<line x1="371.26" y1="191.40" x2="371.26" y2="185.90" stroke="#000" stroke-width="1"/>
<line x1="392.52" y1="191.40" x2="392.52" y2="188.90" stroke="#000" stroke-width="1"/>
<line x1="413.78" y1="191.40" x2="413.78" y2="185.90" stroke="#000" stroke-width="1"/>
<line x1="435.04" y1="191.40" x2="435.04" y2="188.90" stroke="#000" stroke-width="1"/>
<line x1="456.30" y1="191.40" x2="456.30" y2="185.90" stroke="#000" stroke-width="1"/>
<line x1="243.7" y1="184.30" x2="247.0" y2="184.30" stroke="#000" stroke-width="1"/>
<line x1="243.7" y1="177.20" x2="250.0" y2="177.20" stroke="#000" stroke-width="1"/>
<line x1="243.7" y1="170.10" x2="247.0" y2="170.10" stroke="#000" stroke-width="1"/>
<line x1="243.7" y1="219.79" x2="456.3" y2="219.79" stroke="#000" stroke-width="1.1"/>
<line x1="243.70" y1="219.79" x2="243.70" y2="214.29" stroke="#000" stroke-width="1"/>
<line x1="264.96" y1="219.79" x2="264.96" y2="217.29" stroke="#000" stroke-width="1"/>
<line x1="286.22" y1="219.79" x2="286.22" y2="214.29" stroke="#000" stroke-width="1"/>
<line x1="307.48" y1="219.79" x2="307.48" y2="217.29" stroke="#000" stroke-width="1"/>
<line x1="328.74" y1="219.79" x2="328.74" y2="214.29" stroke="#000" stroke-width="1"/>
<line x1="350.00" y1="219.79" x2="350.00" y2="217.29" stroke="#000" stroke-width="1"/>
<line x1="371.26" y1="219.79" x2="371.26" y2="214.29" stroke="#000" stroke-width="1"/>
<line x1="392.52" y1="219.79" x2="392.52" y2="217.29" stroke="#000" stroke-width="1"/>
<line x1="413.78" y1="219.79" x2="413.78" y2="214.29" stroke="#000" stroke-width="1"/>
<line x1="435.04" y1="219.79" x2="435.04" y2="217.29" stroke="#000" stroke-width="1"/>
<line x1="456.30" y1="219.79" x2="456.30" y2="214.29" stroke="#000" stroke-width="1"/>
<line x1="243.7" y1="212.69" x2="247.0" y2="212.69" stroke="#000" stroke-width="1"/>
<line x1="243.7" y1="205.59" x2="250.0" y2="205.59" stroke="#000" stroke-width="1"/>
<line x1="243.7" y1="198.49" x2="247.0" y2="198.49" stroke="#000" stroke-width="1"/>
<line x1="243.7" y1="248.18" x2="456.3" y2="248.18" stroke="#000" stroke-width="1.1"/>
<line x1="243.70" y1="248.18" x2="243.70" y2="242.68" stroke="#000" stroke-width="1"/>
<line x1="264.96" y1="248.18" x2="264.96" y2="245.68" stroke="#000" stroke-width="1"/>
<line x1="286.22" y1="248.18" x2="286.22" y2="242.68" stroke="#000" stroke-width="1"/>
<line x1="307.48" y1="248.18" x2="307.48" y2="245.68" stroke="#000" stroke-width="1"/>
<line x1="328.74" y1="248.18" x2="328.74" y2="242.68" stroke="#000" stroke-width="1"/>
<line x1="350.00" y1="248.18" x2="350.00" y2="245.68" stroke="#000" stroke-width="1"/>
<line x1="371.26" y1="248.18" x2="371.26" y2="242.68" stroke="#000" stroke-width="1"/>
<line x1="392.52" y1="248.18" x2="392.52" y2="245.68" stroke="#000" stroke-width="1"/>
<line x1="413.78" y1="248.18" x2="413.78" y2="242.68" stroke="#000" stroke-width="1"/>
<line x1="435.04" y1="248.18" x2="435.04" y2="245.68" stroke="#000" stroke-width="1"/>
<line x1="456.30" y1="248.18" x2="456.30" y2="242.68" stroke="#000" stroke-width="1"/>
<line x1="243.7" y1="241.08" x2="247.0" y2="241.08" stroke="#000" stroke-width="1"/>
<line x1="243.7" y1="233.98" x2="250.0" y2="233.98" stroke="#000" stroke-width="1"/>
<line x1="243.7" y1="226.88" x2="247.0" y2="226.88" stroke="#000" stroke-width="1"/>
<line x1="243.7" y1="276.57" x2="456.3" y2="276.57" stroke="#000" stroke-width="1.1"/>
<line x1="243.70" y1="276.57" x2="243.70" y2="271.07" stroke="#000" stroke-width="1"/>
<line x1="264.96" y1="276.57" x2="264.96" y2="274.07" stroke="#000" stroke-width="1"/>
<line x1="286.22" y1="276.57" x2="286.22" y2="271.07" stroke="#000" stroke-width="1"/>
<line x1="307.48" y1="276.57" x2="307.48" y2="274.07" stroke="#000" stroke-width="1"/>
<line x1="328.74" y1="276.57" x2="328.74" y2="271.07" stroke="#000" stroke-width="1"/>
<line x1="350.00" y1="276.57" x2="350.00" y2="274.07" stroke="#000" stroke-width="1"/>
<line x1="371.26" y1="276.57" x2="371.26" y2="271.07" stroke="#000" stroke-width="1"/>
<line x1="392.52" y1="276.57" x2="392.52" y2="274.07" stroke="#000" stroke-width="1"/>
<line x1="413.78" y1="276.57" x2="413.78" y2="271.07" stroke="#000" stroke-width="1"/>
<line x1="435.04" y1="276.57" x2="435.04" y2="274.07" stroke="#000" stroke-width="1"/>
<line x1="456.30" y1="276.57" x2="456.30" y2="271.07" stroke="#000" stroke-width="1"/>
<line x1="243.7" y1="269.47" x2="247.0" y2="269.47" stroke="#000" stroke-width="1"/>
<line x1="243.7" y1="262.37" x2="250.0" y2="262.37" stroke="#000" stroke-width="1"/>
<line x1="243.7" y1="255.27" x2="247.0" y2="255.27" stroke="#000" stroke-width="1"/>
<path d="M243.7,276.57 L243.7,18.6 L456.3,18.6 L456.3,276.57" fill="none" stroke="#3a3a3a" stroke-width="1.1" stroke-linejoin="miter"/>
<line x1="261.6" y1="53.45" x2="261.6" y2="272.57" stroke="#444" stroke-width="1.3" stroke-dasharray="6,3"/>
<path d="M259.80,53.85 L261.6,50.75 L263.40,53.85" fill="none" stroke="#222" stroke-width="1"/>
<path d="M259.60,271.57 L261.6,275.67 L263.60,271.57 Z" fill="#222"/>
<text x="258.1" y="32.4" font-size="10.6" fill="#111" stroke="#111" stroke-width="0.25">IF</text>
<text x="251.7" y="151.6" font-size="10.7" fill="#111" stroke="#111" stroke-width="0.25">STO</text>
<rect x="288.4" y="21.6" width="32.4" height="24.6" fill="#fff" stroke="#222" stroke-width="1"/>
<line x1="291.9" y1="26.400000000000002" x2="305.0" y2="26.400000000000002" stroke="#6adcd2" stroke-width="1.2"/>
<line x1="291.9" y1="33.6" x2="300.59999999999997" y2="33.6" stroke="#7c2898" stroke-width="1.3"/>
<line x1="303.4" y1="33.6" x2="304.4" y2="33.6" stroke="#7c2898" stroke-width="1.3"/>
<line x1="291.9" y1="41.0" x2="305.0" y2="41.0" stroke="#000" stroke-width="1.3"/>
<text x="311.2" y="28.2" font-size="6.9" fill="#2a2a2a">xz</text>
<text x="311.2" y="35.300000000000004" font-size="6.9" fill="#2a2a2a">yz</text>
<text x="311.2" y="42.6" font-size="6.9" fill="#2a2a2a">xy</text>
<text x="240.2" y="279.97" font-size="8" text-anchor="end" fill="#111" stroke="#111" stroke-width="0.25">0</text>
<text x="240.2" y="265.77" font-size="8" text-anchor="end" fill="#111" stroke="#111" stroke-width="0.25">1</text>
<text x="240.2" y="251.57" font-size="8" text-anchor="end" fill="#111" stroke="#111" stroke-width="0.25">2</text>
<text x="243.70" y="286.0" font-size="8" text-anchor="middle" fill="#111" stroke="#111" stroke-width="0.25">-2</text>
<text x="286.22" y="286.0" font-size="8" text-anchor="middle" fill="#111" stroke="#111" stroke-width="0.25">-1</text>
<text x="328.74" y="286.0" font-size="8" text-anchor="middle" fill="#111" stroke="#111" stroke-width="0.25">0</text>
<text x="371.26" y="286.0" font-size="8" text-anchor="middle" fill="#111" stroke="#111" stroke-width="0.25">1</text>
<text x="413.78" y="286.0" font-size="8" text-anchor="middle" fill="#111" stroke="#111" stroke-width="0.25">2</text>
<text x="456.30" y="286.0" font-size="8" text-anchor="middle" fill="#111" stroke="#111" stroke-width="0.25">3</text>
<text x="350.00" y="297.1" font-size="12" text-anchor="middle" fill="#111" stroke="#111" stroke-width="0.25">Energy (eV)</text>
<text x="306.6" y="10.9" font-size="12" textLength="38.0" lengthAdjust="spacingAndGlyphs" fill="#111" stroke="#111" stroke-width="0.25">(LAO)</text>
<text x="345.8" y="12.7" font-size="9.3" fill="#111" stroke="#111" stroke-width="0.25">5</text>
<text x="350.2" y="10.9" font-size="12" textLength="39.6" lengthAdjust="spacingAndGlyphs" fill="#111" stroke="#111" stroke-width="0.25">/(STO)</text>
<text x="391.6" y="14.7" font-size="10" fill="#111" stroke="#111" stroke-width="0.25">9</text>
<line x1="554.00" y1="18.6" x2="554.00" y2="276.57" stroke="#8e6a8a" stroke-width="1.8" stroke-dasharray="5,2.2"/>
<clipPath id="c2_0"><rect x="468.6" y="18.6" width="213.50" height="31.85"/></clipPath>
<path d="M560.00,48.26 L562.40,47.98 L564.80,45.62 L567.20,45.56 L569.87,41.84 L572.53,39.72 L575.20,35.68 L577.75,30.65 L580.30,23.33 L583.30,32.38 L585.80,33.67 L588.30,36.44 L590.80,36.69 L593.30,38.82 L595.85,33.75 L598.40,30.55 L600.40,24.70 L602.40,20.32 L605.40,25.80 L607.95,24.32 L610.50,21.36 L612.50,27.64 L614.50,31.68 L617.00,36.78 L619.50,39.49 L622.05,44.08 L624.60,46.62 L626.93,48.11 L629.27,48.35 L631.60,49.25 L634.20,49.11 L636.80,49.24 L639.40,49.06 L642.00,49.18 L644.60,48.97 L647.20,49.15 L649.80,48.92 L652.40,49.16 L655.00,48.84 L657.90,48.75 L660.80,47.97 L662.90,48.87 L665.00,49.00" fill="none" stroke="#6adcd2" stroke-width="0.85" clip-path="url(#c2_0)"/>
<path d="M553.10,48.33 L556.00,47.46 L559.00,45.21 L561.00,46.67 L563.00,45.62 L566.00,47.50 L569.00,43.67 L571.00,41.61 L574.00,37.57 L576.00,36.34 L577.50,29.49 L578.50,24.62 L579.50,20.55 L580.50,25.88 L582.00,31.48 L584.00,37.78 L586.00,38.45 L588.00,38.39 L590.00,36.39 L592.00,39.77 L594.00,40.36 L596.00,42.74 L598.00,39.60 L600.00,35.42 L602.00,27.59 L603.00,21.64 L604.00,18.12 L607.00,19.07 L610.00,18.14 L611.00,25.40 L613.00,29.53 L615.00,33.76 L617.00,35.16 L619.00,40.84 L621.00,42.58 L623.00,45.68 L626.00,46.52 L628.00,48.59 L630.00,49.00" fill="none" stroke="#7c2898" stroke-width="1.35" stroke-dasharray="6.5,2.2" stroke-linejoin="round" clip-path="url(#c2_0)"/>
<path d="M468.60,49.45 L547.10,49.43 L547.60,49.40 L548.10,49.32 L548.60,49.13 L549.10,48.76 L549.60,48.08 L550.10,46.96 L550.60,45.32 L551.10,43.21 L551.60,40.85 L552.10,38.63 L552.60,37.03 L553.10,36.45 L553.60,37.03 L554.10,38.63 L554.60,40.85 L555.10,43.21 L555.60,45.32 L556.10,46.96 L556.60,48.07 L557.10,48.73 L557.60,49.05 L558.10,49.13 L558.50,49.04 L558.60,48.99 L559.10,48.63 L559.60,47.97 L560.10,46.93 L560.60,45.45 L561.10,43.52 L561.60,41.27 L562.10,38.94 L562.60,36.88 L563.10,35.46 L563.60,34.95 L564.10,35.46 L564.60,36.88 L565.10,38.94 L565.60,41.27 L566.10,43.52 L566.60,45.45 L567.10,46.93 L567.60,47.98 L568.10,48.65 L568.60,49.04 L568.70,49.10 L569.10,49.26 L569.60,49.37 L570.10,49.42 L570.60,49.44 L682.10,49.45" fill="none" stroke="#000" stroke-width="1.35" stroke-linejoin="round" clip-path="url(#c2_0)"/>
<path d="M566.90,46.20 L567.14,46.42 L567.46,46.82 L567.86,47.16 L568.37,47.20 L569.00,46.70 L569.82,45.40 L570.83,43.45 L571.90,41.26 L572.93,39.21 L573.80,37.70 L574.48,36.74 L575.06,36.06 L575.56,35.66 L576.03,35.51 L576.50,35.60 L576.97,36.09 L577.41,36.98 L577.82,38.04 L578.22,39.06 L578.60,39.80 L578.90,40.42 L579.12,41.08 L579.35,41.53 L579.68,41.55 L580.20,40.90 L580.97,39.08 L581.94,36.25 L583.01,33.16 L584.06,30.55 L585.00,29.20 L585.83,29.47 L586.63,30.88 L587.38,32.83 L588.07,34.76 L588.70,36.10 L589.22,36.95 L589.64,37.68 L590.03,38.16 L590.43,38.21 L590.90,37.70 L591.47,36.37 L592.09,34.32 L592.75,31.94 L593.39,29.57 L594.00,27.60 L594.56,25.87 L595.08,24.14 L595.60,22.62 L596.13,21.57 L596.70,21.20 L597.31,21.92 L597.94,23.59 L598.60,25.58 L599.25,27.29 L599.90,28.10 L600.53,27.64 L601.16,26.33 L601.78,24.71 L602.43,23.34 L603.10,22.80 L603.83,23.32 L604.62,24.52 L605.41,26.05 L606.15,27.53 L606.80,28.60 L607.32,29.20 L607.75,29.57 L608.13,29.80 L608.50,29.98 L608.90,30.20 L609.32,30.38 L609.72,30.47 L610.14,30.58 L610.59,30.82 L611.10,31.30 L611.69,32.18 L612.36,33.40 L613.05,34.70 L613.71,35.84 L614.30,36.60 L614.80,36.80 L615.24,36.59 L615.65,36.24 L616.03,35.99 L616.40,36.10 L616.73,36.60 L617.00,37.34 L617.27,38.24 L617.59,39.24 L618.00,40.30 L618.56,41.51 L619.23,42.91 L619.94,44.34 L620.62,45.66 L621.20,46.70 L621.65,47.42 L622.01,47.92 L622.33,48.27 L622.65,48.54 L623.00,48.80 L623.42,49.03 L623.88,49.20 L624.33,49.31 L624.72,49.38 L625.00,49.45" fill="none" stroke="#000" stroke-width="1.35" stroke-linejoin="round" clip-path="url(#c2_0)"/>
<clipPath id="c2_1"><rect x="468.6" y="49.45" width="213.50" height="29.39"/></clipPath>
<path d="M553.90,76.19 L556.80,73.87 L558.80,70.72 L560.80,68.87 L562.80,68.90 L564.80,70.95 L567.80,69.12 L570.80,71.64 L573.80,72.88 L576.80,74.95 L579.80,71.26 L582.80,68.64 L585.80,66.77 L588.80,70.93 L590.80,67.47 L593.80,66.54 L596.80,61.70 L598.80,58.76 L600.80,61.52 L602.80,64.22 L604.80,60.95 L606.80,62.31 L608.80,57.99 L610.80,57.03 L612.80,54.75 L614.80,53.87 L616.80,55.47 L618.80,59.71 L620.80,58.84 L622.80,58.30 L624.80,60.24 L626.80,64.35 L628.80,66.20 L630.80,71.02 L632.80,71.28 L634.80,74.52 L636.80,75.42 L638.80,77.52" fill="none" stroke="#6adcd2" stroke-width="0.85" clip-path="url(#c2_1)"/>
<path d="M553.10,76.13 L556.00,73.54 L558.00,70.17 L560.00,68.51 L562.00,68.19 L564.00,70.78 L567.00,68.87 L570.00,71.81 L573.00,72.88 L576.00,74.89 L579.00,71.28 L582.00,68.42 L585.00,66.31 L588.00,70.63 L590.00,67.33 L593.00,66.46 L596.00,61.22 L598.00,58.45 L600.00,61.48 L602.00,64.48 L604.00,60.50 L606.00,62.44 L608.00,58.19 L610.00,56.76 L612.00,53.66 L614.00,52.70 L616.00,55.62 L618.00,59.74 L620.00,59.41 L622.00,58.68 L624.00,59.18 L626.00,63.83 L628.00,65.23 L630.00,70.52 L632.00,71.61 L634.00,74.70 L636.00,75.38 L638.00,77.50" fill="none" stroke="#7c2898" stroke-width="1.35" stroke-dasharray="6.5,2.2" stroke-linejoin="round" clip-path="url(#c2_1)"/>
<path d="M468.60,77.84 L547.10,77.82 L547.60,77.79 L548.10,77.70 L548.60,77.50 L549.10,77.10 L549.60,76.36 L550.10,75.16 L550.60,73.40 L551.10,71.12 L551.60,68.58 L552.10,66.19 L552.60,64.47 L553.10,63.84 L553.60,64.47 L554.10,66.19 L554.60,68.57 L555.10,71.10 L555.60,73.34 L556.10,75.03 L556.60,76.06 L556.70,76.19 L557.10,76.45 L557.60,76.24 L558.10,75.42 L558.60,74.00 L559.10,72.02 L559.60,69.63 L560.10,67.13 L560.60,64.94 L561.10,63.51 L561.50,63.14 L561.60,63.16 L562.10,63.97 L562.60,65.75 L563.10,68.12 L563.60,70.63 L564.10,72.90 L564.60,74.72 L565.10,76.03 L565.60,76.87 L566.10,77.36 L566.30,77.48 L566.60,77.62 L567.10,77.75 L567.60,77.80 L568.10,77.83 L682.10,77.84" fill="none" stroke="#000" stroke-width="1.35" stroke-linejoin="round" clip-path="url(#c2_1)"/>
<path d="M564.30,76.80 L564.42,76.96 L564.51,77.19 L564.72,77.45 L565.17,77.68 L566.00,77.84 L567.41,77.84 L569.32,77.84 L571.41,77.84 L573.38,77.84 L574.90,77.84 L575.88,77.39 L576.53,76.80 L577.00,76.05 L577.43,75.12 L578.00,74.00 L578.70,72.65 L579.44,71.07 L580.19,69.33 L580.95,67.49 L581.70,65.60 L582.45,63.24 L583.21,60.37 L583.96,57.62 L584.70,55.65 L585.40,55.10 L586.05,56.84 L586.65,60.46 L587.24,64.62 L587.84,68.00 L588.50,69.30 L589.22,67.39 L589.97,63.16 L590.75,58.28 L591.54,54.40 L592.30,53.20 L593.08,55.66 L593.88,60.66 L594.66,66.74 L595.38,72.41 L596.00,76.20 L596.47,77.84 L596.81,77.84 L597.11,77.84 L597.41,77.38 L597.80,76.80 L598.28,76.21 L598.81,75.35 L599.36,74.29 L599.93,73.15 L600.50,72.00 L601.05,70.66 L601.61,69.07 L602.17,67.51 L602.77,66.26 L603.40,65.60 L604.07,65.91 L604.76,67.01 L605.49,68.31 L606.26,69.27 L607.10,69.30 L608.06,68.21 L609.13,66.39 L610.22,64.12 L611.24,61.69 L612.10,59.40 L612.77,57.03 L613.31,54.40 L613.76,51.81 L614.18,49.57 L614.60,48.00 L615.00,47.02 L615.35,46.43 L615.68,46.32 L616.05,46.81 L616.50,48.00 L617.05,50.64 L617.69,54.66 L618.35,58.93 L619.01,62.32 L619.60,63.70 L620.13,62.32 L620.63,58.93 L621.11,54.66 L621.56,50.64 L622.00,48.00 L622.39,46.61 L622.74,45.73 L623.08,45.53 L623.45,46.23 L623.90,48.00 L624.45,51.59 L625.08,56.86 L625.75,62.71 L626.40,68.06 L627.00,71.80 L627.54,73.72 L628.04,74.55 L628.53,74.62 L629.01,74.23 L629.50,73.70 L629.99,72.66 L630.47,70.90 L630.96,68.97 L631.46,67.45 L632.00,66.90 L632.56,67.86 L633.14,69.96 L633.74,72.37 L634.39,74.29 L635.10,74.90 L635.90,73.49 L636.79,70.60 L637.71,67.30 L638.60,64.65 L639.40,63.70 L640.13,65.08 L640.83,68.07 L641.47,71.75 L642.03,75.20 L642.50,77.50 L642.85,77.84 L643.10,77.84 L643.27,77.84 L643.40,77.84 L643.50,77.84" fill="none" stroke="#000" stroke-width="1.35" stroke-linejoin="round" clip-path="url(#c2_1)"/>
<clipPath id="c2_2"><rect x="468.6" y="77.84" width="213.50" height="29.39"/></clipPath>
<path d="M553.90,103.64 L556.90,96.75 L559.90,91.76 L562.90,89.44 L565.90,94.27 L569.00,100.91 L571.00,101.94 L573.00,104.78 L575.00,102.55 L577.00,102.77 L579.05,98.57 L581.10,95.77 L584.10,90.79 L587.10,93.54 L590.10,98.49 L592.65,100.87 L595.20,101.81 L597.20,100.47 L599.20,96.86 L601.20,97.50 L603.20,95.93 L606.20,92.15 L609.30,81.68 L611.30,77.83 L614.30,86.17 L617.30,90.62 L620.30,86.97 L623.40,89.50 L626.40,89.84 L628.40,92.93 L630.40,94.22 L632.40,96.97 L634.40,97.44 L636.45,101.36 L638.50,103.64 L640.80,105.83" fill="none" stroke="#6adcd2" stroke-width="0.85" clip-path="url(#c2_2)"/>
<path d="M553.10,103.38 L556.10,96.84 L559.10,91.51 L562.10,89.55 L565.10,93.34 L568.20,101.16 L570.20,101.60 L572.20,105.08 L574.20,102.85 L576.20,102.87 L578.25,98.19 L580.30,95.75 L583.30,90.38 L586.30,93.98 L589.30,97.54 L591.85,101.09 L594.40,101.66 L596.40,100.11 L598.40,96.57 L600.40,97.44 L602.40,95.31 L605.40,91.45 L608.50,81.51 L610.50,78.49 L613.50,85.47 L616.50,90.99 L619.50,85.60 L622.60,88.45 L625.60,89.19 L627.60,92.99 L629.60,93.27 L631.60,96.50 L633.60,97.71 L635.65,101.64 L637.70,103.28 L640.00,105.80" fill="none" stroke="#7c2898" stroke-width="1.35" stroke-dasharray="6.5,2.2" stroke-linejoin="round" clip-path="url(#c2_2)"/>
<path d="M468.60,106.23 L550.10,106.21 L550.60,106.19 L551.10,106.14 L551.60,106.02 L552.10,105.79 L552.30,105.65 L552.60,105.36 L553.10,104.61 L553.60,103.42 L554.10,101.63 L554.60,99.18 L555.10,96.10 L555.60,92.55 L556.10,88.92 L556.60,85.66 L557.10,83.31 L557.60,82.26 L557.70,82.23 L558.10,82.71 L558.60,84.59 L559.10,87.54 L559.60,91.09 L560.10,94.72 L560.60,98.02 L561.10,100.74 L561.60,102.78 L562.10,104.20 L562.60,105.11 L563.10,105.65 L563.60,105.95 L564.10,106.10 L564.60,106.17 L565.10,106.21 L579.10,106.20 L579.60,106.17 L580.10,106.11 L580.60,106.01 L581.10,105.82 L581.60,105.49 L581.85,105.26 L582.10,104.97 L582.60,104.15 L583.10,102.93 L583.60,101.19 L584.10,98.84 L584.60,95.81 L585.10,92.10 L585.60,87.80 L586.10,83.12 L586.60,78.35 L587.10,73.89 L587.60,70.16 L588.10,67.53 L588.60,66.30 L588.75,66.23 L589.10,66.61 L589.60,68.42 L590.10,71.54 L590.60,75.61 L591.10,80.25 L591.60,85.02 L592.10,89.58 L592.60,93.66 L593.10,97.11 L593.60,99.86 L594.10,101.95 L594.60,103.47 L595.10,104.52 L595.60,105.21 L595.65,105.26 L596.10,105.64 L596.60,105.91 L597.10,106.06 L597.60,106.14 L598.10,106.19 L598.60,106.21 L657.20,106.21 L657.60,106.18 L658.10,106.11 L658.60,105.98 L659.10,105.79 L659.60,105.57 L660.10,105.36 L660.60,105.24 L660.80,105.23 L661.10,105.26 L661.60,105.40 L662.10,105.61 L662.60,105.84 L663.10,106.01 L663.60,106.12 L664.10,106.19 L664.40,106.21 L682.10,106.23" fill="none" stroke="#000" stroke-width="1.35" stroke-linejoin="round" clip-path="url(#c2_2)"/>
<path d="M602.30,106.23 L603.00,102.22 L604.01,96.32 L605.15,89.78 L606.22,83.82 L607.00,79.70 L607.42,77.43 L607.60,76.17 L607.68,75.92 L607.80,76.64 L608.10,78.30 L608.61,82.06 L609.25,87.93 L609.96,94.20 L610.66,99.13 L611.30,101.00 L611.90,98.65 L612.51,93.23 L613.08,86.49 L613.59,80.16 L614.00,76.00 L614.26,74.18 L614.40,73.53 L614.49,73.79 L614.60,74.70 L614.80,76.00 L615.10,78.32 L615.44,81.84 L615.82,85.60 L616.24,88.64 L616.70,90.00 L617.23,89.07 L617.85,86.50 L618.48,83.18 L619.05,80.05 L619.50,78.00 L619.72,76.84 L619.77,75.96 L619.79,75.65 L619.92,76.23 L620.30,78.00 L621.00,82.02 L621.93,88.09 L622.99,94.62 L624.08,99.99 L625.10,102.60 L626.06,101.20 L627.02,96.84 L627.98,91.43 L628.94,86.85 L629.90,85.00 L630.92,86.73 L631.99,90.77 L633.03,95.85 L633.96,100.69 L634.70,104.00 L635.20,105.55 L635.53,106.21 L635.74,106.23 L635.88,106.20 L636.00,106.23" fill="none" stroke="#000" stroke-width="1.35" stroke-linejoin="round" clip-path="url(#c2_2)"/>
<clipPath id="c2_3"><rect x="468.6" y="106.23" width="213.50" height="29.39"/></clipPath>
<path d="M553.90,134.34 L556.90,133.06 L559.90,129.92 L561.90,127.83 L563.90,123.89 L565.95,126.55 L568.00,127.97 L570.50,128.30 L573.00,127.37 L575.00,127.08 L577.00,124.93 L579.05,128.10 L581.10,129.11 L583.60,128.66 L586.10,127.01 L588.10,125.06 L590.10,121.56 L593.10,117.84 L596.20,122.46 L598.80,128.77 L600.80,125.75 L602.80,124.41 L604.80,118.91 L606.80,117.29 L608.80,113.29 L610.80,116.44 L612.80,114.85 L614.80,115.32 L616.80,111.55 L618.80,110.67 L620.30,107.87 L621.80,108.77 L623.80,112.84 L625.80,119.58 L627.80,119.27 L629.80,120.62 L631.80,118.03 L633.80,120.31 L635.80,122.47 L637.80,126.76 L639.80,129.50 L641.80,132.79 L643.80,133.82 L645.80,134.60" fill="none" stroke="#6adcd2" stroke-width="0.85" clip-path="url(#c2_3)"/>
<path d="M553.10,134.36 L555.10,133.74 L557.10,131.02 L559.10,130.86 L561.10,126.52 L563.10,125.01 L565.15,125.49 L567.20,129.12 L569.70,127.10 L572.20,128.23 L574.20,125.85 L576.20,125.79 L578.25,126.49 L580.30,129.80 L582.80,127.71 L585.30,128.37 L587.30,123.80 L589.30,121.79 L592.30,116.73 L595.40,123.76 L598.00,127.19 L600.00,126.52 L602.00,122.63 L604.00,119.71 L606.00,115.51 L608.00,114.44 L610.00,115.66 L612.00,115.87 L614.00,113.43 L616.00,112.71 L618.00,109.36 L619.50,107.89 L621.00,108.63 L623.00,113.74 L625.00,117.14 L627.00,120.51 L629.00,118.39 L631.00,118.54 L633.00,119.46 L635.00,123.94 L637.00,125.53 L639.00,130.80 L641.00,131.65 L643.00,134.26 L645.00,134.60" fill="none" stroke="#7c2898" stroke-width="1.35" stroke-dasharray="6.5,2.2" stroke-linejoin="round" clip-path="url(#c2_3)"/>
<path d="M468.60,134.62 L556.10,134.60 L556.60,134.55 L557.10,134.45 L557.60,134.22 L557.90,133.97 L558.10,133.75 L558.60,132.86 L559.10,131.34 L559.60,128.98 L560.10,125.69 L560.60,121.57 L561.10,117.02 L561.60,112.74 L562.10,109.52 L562.60,108.06 L562.70,108.02 L563.10,108.70 L563.60,111.28 L564.10,115.23 L564.60,119.77 L565.10,124.12 L565.60,127.78 L566.10,130.50 L566.60,132.34 L567.10,133.45 L567.50,133.97 L567.60,134.07 L568.10,134.38 L568.60,134.52 L569.10,134.58 L569.60,134.61 L583.60,134.60 L584.10,134.57 L584.60,134.52 L585.10,134.43 L585.60,134.25 L586.10,133.93 L586.40,133.65 L586.60,133.41 L587.10,132.57 L587.60,131.30 L588.10,129.47 L588.60,126.96 L589.10,123.70 L589.60,119.71 L590.10,115.11 L590.60,110.16 L591.10,105.23 L591.60,100.78 L592.10,97.29 L592.60,95.16 L593.00,94.62 L593.10,94.65 L593.60,95.83 L594.10,98.55 L594.60,102.47 L595.10,107.17 L595.60,112.16 L596.10,117.01 L596.60,121.39 L597.10,125.10 L597.60,128.05 L598.10,130.28 L598.60,131.87 L599.10,132.95 L599.60,133.65 L600.10,134.08 L600.60,134.33 L601.10,134.47 L601.60,134.55 L602.10,134.59 L602.60,134.60 L682.10,134.62" fill="none" stroke="#000" stroke-width="1.35" stroke-linejoin="round" clip-path="url(#c2_3)"/>
<path d="M604.50,134.62 L604.77,134.25 L605.15,133.79 L605.60,133.15 L606.06,132.25 L606.50,131.00 L606.90,129.28 L607.28,127.16 L607.68,124.80 L608.11,122.36 L608.60,120.00 L609.17,117.23 L609.80,113.94 L610.47,110.88 L611.14,108.75 L611.80,108.30 L612.42,110.60 L613.03,115.18 L613.64,120.40 L614.29,124.64 L615.00,126.30 L615.84,124.51 L616.80,120.37 L617.76,115.13 L618.63,110.09 L619.30,106.50 L619.69,104.55 L619.88,103.38 L619.96,102.74 L620.07,102.37 L620.30,102.00 L620.70,101.62 L621.19,101.39 L621.72,101.35 L622.21,101.54 L622.60,102.00 L622.82,102.57 L622.90,103.22 L622.96,104.20 L623.12,105.71 L623.50,108.00 L624.13,111.91 L624.95,117.28 L625.88,122.85 L626.85,127.35 L627.80,129.50 L628.74,128.14 L629.71,124.11 L630.70,119.18 L631.67,115.09 L632.60,113.60 L633.53,115.59 L634.47,119.88 L635.36,125.17 L636.16,130.15 L636.80,133.50 L637.25,134.62 L637.55,134.62 L637.75,134.62 L637.88,134.62 L638.00,134.62" fill="none" stroke="#000" stroke-width="1.35" stroke-linejoin="round" clip-path="url(#c2_3)"/>
<clipPath id="c2_4"><rect x="468.6" y="134.62" width="213.50" height="29.39"/></clipPath>
<path d="M553.90,160.86 L556.90,161.38 L559.90,159.94 L562.90,159.88 L565.90,157.61 L567.95,157.82 L570.00,155.63 L572.00,157.67 L574.00,157.53 L576.00,159.54 L578.00,159.40 L580.55,159.19 L583.10,156.90 L585.60,156.63 L588.10,153.81 L590.10,152.76 L592.10,149.32 L594.15,152.06 L596.20,152.48 L598.80,150.59 L600.80,154.79 L602.80,157.55 L604.80,157.44 L606.80,156.87 L608.80,153.75 L610.80,150.91 L612.80,145.56 L614.80,142.14 L616.80,139.94 L618.80,144.78 L620.80,144.25 L622.80,143.77 L624.80,142.01 L626.80,143.28 L628.80,145.60 L630.80,149.15 L632.80,149.23 L634.80,149.70 L636.80,149.28 L638.80,152.19 L640.80,154.71 L642.80,155.59 L644.80,157.89 L647.80,161.81 L650.80,163.00" fill="none" stroke="#6adcd2" stroke-width="0.85" clip-path="url(#c2_4)"/>
<path d="M553.10,160.67 L555.10,161.25 L557.10,159.83 L559.10,160.61 L561.10,158.89 L563.10,159.41 L565.10,157.42 L567.15,157.63 L569.20,155.25 L571.20,157.57 L573.20,157.83 L575.20,159.66 L577.20,158.64 L579.75,159.29 L582.30,156.34 L584.80,156.12 L587.30,153.75 L589.30,152.67 L591.30,149.62 L593.35,151.54 L595.40,151.58 L598.00,150.57 L600.00,154.46 L602.00,157.85 L604.00,157.13 L606.00,156.41 L608.00,153.34 L610.00,150.80 L612.00,145.65 L614.00,141.94 L616.00,140.31 L618.00,143.62 L620.00,143.41 L622.00,142.91 L624.00,140.33 L626.00,143.61 L628.00,145.06 L630.00,148.44 L632.00,148.37 L634.00,149.93 L636.00,149.13 L638.00,152.83 L640.00,154.12 L642.00,155.42 L644.00,157.24 L647.00,161.99 L650.00,163.00" fill="none" stroke="#7c2898" stroke-width="1.35" stroke-dasharray="6.5,2.2" stroke-linejoin="round" clip-path="url(#c2_4)"/>
<path d="M468.60,163.01 L559.10,162.99 L559.60,162.97 L560.10,162.90 L560.60,162.76 L561.10,162.46 L561.60,161.92 L562.10,160.98 L562.60,159.48 L563.10,157.32 L563.60,154.45 L564.10,151.03 L564.60,147.41 L565.10,144.08 L565.60,141.64 L566.10,140.54 L566.20,140.51 L566.60,141.02 L567.10,142.97 L567.60,146.01 L568.10,149.58 L568.60,153.14 L569.10,156.25 L569.60,158.70 L570.10,160.45 L570.60,161.60 L571.10,162.28 L571.30,162.46 L571.60,162.66 L572.10,162.85 L572.60,162.95 L573.10,162.99 L587.60,162.99 L588.10,162.96 L588.60,162.91 L589.10,162.82 L589.60,162.64 L590.10,162.32 L590.40,162.04 L590.60,161.80 L591.10,160.96 L591.60,159.69 L592.10,157.86 L592.60,155.35 L593.10,152.09 L593.60,148.10 L594.10,143.50 L594.60,138.55 L595.10,133.62 L595.60,129.17 L596.10,125.68 L596.60,123.55 L597.00,123.01 L597.10,123.04 L597.60,124.22 L598.10,126.94 L598.60,130.86 L599.10,135.56 L599.60,140.55 L600.10,145.40 L600.60,149.78 L601.10,153.49 L601.60,156.44 L602.10,158.67 L602.60,160.26 L603.10,161.34 L603.60,162.04 L604.10,162.47 L604.60,162.72 L605.10,162.86 L605.60,162.94 L606.10,162.98 L606.60,162.99 L682.10,163.01" fill="none" stroke="#000" stroke-width="1.35" stroke-linejoin="round" clip-path="url(#c2_4)"/>
<path d="M609.00,163.01 L609.12,163.01 L609.25,163.01 L609.45,163.01 L609.76,163.01 L610.20,162.00 L610.89,158.18 L611.78,152.67 L612.75,146.57 L613.64,140.98 L614.30,137.00 L614.69,134.90 L614.90,133.93 L615.00,133.71 L615.08,133.86 L615.20,134.00 L615.34,133.94 L615.44,133.93 L615.55,134.25 L615.72,135.18 L616.00,137.00 L616.40,140.67 L616.89,146.02 L617.45,151.58 L618.06,155.90 L618.70,157.50 L619.43,155.40 L620.28,150.59 L621.13,144.53 L621.90,138.70 L622.50,134.60 L622.84,132.44 L622.98,131.22 L623.05,130.63 L623.18,130.33 L623.50,130.00 L624.08,129.63 L624.85,129.45 L625.67,129.45 L626.43,129.63 L627.00,130.00 L627.29,130.30 L627.40,130.53 L627.44,131.07 L627.53,132.30 L627.80,134.60 L628.25,138.97 L628.81,145.15 L629.45,151.64 L630.19,156.96 L631.00,159.60 L631.94,158.30 L633.02,154.05 L634.15,148.76 L635.27,144.31 L636.30,142.60 L637.28,144.53 L638.26,148.83 L639.17,154.16 L639.97,159.17 L640.60,162.50 L641.01,163.01 L641.25,163.01 L641.37,163.01 L641.43,163.01 L641.50,163.01" fill="none" stroke="#000" stroke-width="1.35" stroke-linejoin="round" clip-path="url(#c2_4)"/>
<clipPath id="c2_5"><rect x="468.6" y="163.01" width="213.50" height="29.39"/></clipPath>
<path d="M553.90,190.20 L556.90,190.16 L559.90,187.84 L562.40,186.40 L564.90,183.27 L566.95,182.63 L569.00,180.53 L571.00,183.23 L573.00,183.60 L575.50,185.58 L578.00,185.23 L580.05,184.88 L582.10,183.02 L584.10,184.70 L586.10,185.00 L588.10,183.80 L590.10,180.72 L592.10,178.91 L594.10,175.53 L597.20,176.87 L598.80,186.63 L600.80,185.55 L602.80,181.34 L604.80,180.54 L606.80,179.90 L608.80,181.16 L610.80,177.76 L612.80,174.47 L614.80,169.36 L616.80,170.29 L618.80,165.10 L620.80,168.78 L622.80,165.00 L624.80,165.21 L626.80,164.06 L628.80,167.87 L630.80,170.09 L632.80,177.29 L634.80,179.85 L636.80,183.74 L638.80,180.57 L640.80,180.81 L642.80,182.29 L644.80,186.24 L647.80,188.70 L650.80,191.40" fill="none" stroke="#6adcd2" stroke-width="0.85" clip-path="url(#c2_5)"/>
<path d="M553.10,190.10 L555.10,190.40 L557.10,188.39 L559.10,189.05 L561.60,185.04 L564.10,183.87 L566.15,180.89 L568.20,180.96 L570.20,181.96 L572.20,185.20 L574.70,184.43 L577.20,186.36 L579.25,183.63 L581.30,183.86 L583.30,183.45 L585.30,185.93 L587.30,182.41 L589.30,181.63 L591.30,177.78 L593.30,176.03 L596.40,175.79 L598.00,187.54 L600.00,184.61 L602.00,182.72 L604.00,179.12 L606.00,180.52 L608.00,180.24 L610.00,178.67 L612.00,173.22 L614.00,170.97 L616.00,167.33 L618.00,166.56 L620.00,167.36 L622.00,165.79 L624.00,163.03 L626.00,164.96 L628.00,165.48 L630.00,170.39 L632.00,175.06 L634.00,180.46 L636.00,182.23 L638.00,181.42 L640.00,179.35 L642.00,183.80 L644.00,185.06 L647.00,189.56 L650.00,191.40" fill="none" stroke="#7c2898" stroke-width="1.35" stroke-dasharray="6.5,2.2" stroke-linejoin="round" clip-path="url(#c2_5)"/>
<path d="M468.60,191.40 L559.60,191.37 L560.10,191.34 L560.60,191.27 L561.10,191.13 L561.50,190.94 L561.60,190.88 L562.10,190.44 L562.60,189.72 L563.10,188.64 L563.60,187.11 L564.10,185.11 L564.60,182.68 L565.10,179.99 L565.60,177.30 L566.10,174.94 L566.60,173.26 L567.10,172.52 L567.20,172.50 L567.60,172.84 L568.10,174.17 L568.60,176.30 L569.10,178.90 L569.60,181.62 L570.10,184.18 L570.60,186.37 L571.10,188.09 L571.60,189.34 L572.10,190.19 L572.60,190.73 L572.90,190.94 L573.10,191.05 L573.60,191.23 L574.10,191.32 L574.60,191.36 L575.10,191.39 L588.60,191.37 L589.10,191.34 L589.60,191.27 L590.10,191.13 L590.60,190.87 L591.10,190.43 L591.60,189.69 L592.10,188.52 L592.60,186.78 L593.10,184.33 L593.60,181.06 L594.10,176.98 L594.60,172.21 L595.10,167.03 L595.60,161.87 L596.10,157.26 L596.60,153.73 L597.10,151.74 L597.40,151.40 L597.60,151.55 L598.10,153.20 L598.60,156.45 L599.10,160.89 L599.60,165.98 L600.10,171.20 L600.60,176.08 L601.10,180.31 L601.60,183.74 L602.10,186.35 L602.60,188.23 L603.10,189.49 L603.60,190.31 L603.70,190.43 L604.10,190.80 L604.60,191.09 L605.10,191.25 L605.60,191.33 L606.10,191.37 L606.60,191.39 L682.10,191.40" fill="none" stroke="#000" stroke-width="1.35" stroke-linejoin="round" clip-path="url(#c2_5)"/>
<path d="M611.80,191.40 L612.48,186.91 L613.45,180.10 L614.56,172.82 L615.67,166.91 L616.60,164.20 L617.32,166.30 L617.91,171.99 L618.47,178.86 L619.08,184.50 L619.80,186.50 L620.71,183.60 L621.75,177.39 L622.83,169.79 L623.85,162.69 L624.70,158.00 L625.32,155.71 L625.76,154.55 L626.15,154.54 L626.59,155.68 L627.20,158.00 L628.01,162.65 L628.95,169.63 L629.97,177.20 L631.00,183.60 L632.00,187.10 L632.99,186.48 L634.00,182.91 L635.00,178.21 L635.94,174.20 L636.80,172.70 L637.58,174.52 L638.30,178.44 L638.96,183.26 L639.53,187.78 L640.00,190.80 L640.36,191.40 L640.61,191.40 L640.78,191.40 L640.90,191.40 L641.00,191.40" fill="none" stroke="#000" stroke-width="1.35" stroke-linejoin="round" clip-path="url(#c2_5)"/>
<clipPath id="c2_6"><rect x="468.6" y="191.39999999999998" width="213.50" height="29.39"/></clipPath>
<path d="M553.90,219.11 L556.90,218.56 L559.90,217.11 L562.40,216.82 L564.90,214.85 L566.95,213.36 L569.00,210.13 L571.00,213.53 L573.00,215.13 L575.00,215.31 L577.00,213.76 L579.05,216.71 L581.10,217.64 L583.60,218.73 L586.10,217.81 L588.10,217.23 L590.10,214.72 L592.10,212.74 L594.10,208.49 L596.45,208.35 L598.80,206.43 L600.80,210.32 L602.80,213.64 L604.80,210.20 L606.80,210.56 L608.80,213.41 L610.80,211.05 L612.80,205.35 L614.80,200.87 L616.80,203.03 L618.80,198.95 L620.80,200.48 L622.80,200.67 L624.80,200.61 L626.80,201.68 L628.80,205.27 L630.80,203.52 L632.80,207.30 L634.80,204.96 L636.80,208.31 L638.80,210.49 L640.80,210.82 L642.80,212.46 L644.80,214.73 L647.80,216.38 L650.80,219.22 L652.80,219.19 L654.80,219.61" fill="none" stroke="#6adcd2" stroke-width="0.85" clip-path="url(#c2_6)"/>
<path d="M553.10,219.10 L555.10,218.86 L557.10,217.09 L559.10,218.07 L561.60,215.29 L564.10,216.16 L566.15,212.20 L568.20,210.59 L570.20,211.98 L572.20,215.95 L574.20,214.25 L576.20,215.01 L578.25,215.70 L580.30,218.81 L582.80,217.61 L585.30,218.62 L587.30,216.10 L589.30,215.97 L591.30,211.47 L593.30,209.62 L595.65,206.62 L598.00,206.55 L600.00,209.47 L602.00,214.39 L604.00,209.06 L606.00,211.78 L608.00,212.24 L610.00,211.66 L612.00,204.55 L614.00,202.33 L616.00,202.31 L618.00,199.86 L620.00,199.03 L622.00,201.39 L624.00,198.63 L626.00,201.37 L628.00,203.57 L630.00,203.81 L632.00,205.24 L634.00,205.85 L636.00,207.42 L638.00,211.44 L640.00,209.11 L642.00,213.97 L644.00,213.60 L647.00,217.36 L650.00,218.84 L652.00,219.43 L654.00,219.60" fill="none" stroke="#7c2898" stroke-width="1.35" stroke-dasharray="6.5,2.2" stroke-linejoin="round" clip-path="url(#c2_6)"/>
<path d="M468.60,219.79 L561.60,219.76 L562.10,219.73 L562.60,219.64 L563.10,219.47 L563.40,219.31 L563.60,219.16 L564.10,218.60 L564.60,217.69 L565.10,216.32 L565.60,214.40 L566.10,211.94 L566.60,209.06 L567.10,206.02 L567.60,203.23 L568.10,201.10 L568.60,199.99 L568.80,199.89 L569.10,200.12 L569.60,201.45 L570.10,203.75 L570.60,206.63 L571.10,209.65 L571.60,212.47 L572.10,214.83 L572.60,216.63 L573.10,217.91 L573.60,218.74 L574.10,219.24 L574.20,219.31 L574.60,219.52 L575.10,219.66 L575.60,219.74 L576.10,219.77 L589.10,219.77 L589.60,219.75 L590.10,219.71 L590.60,219.63 L591.10,219.48 L591.60,219.23 L592.10,218.82 L592.60,218.16 L593.10,217.15 L593.60,215.69 L594.10,213.66 L594.60,210.97 L595.10,207.60 L595.60,203.58 L596.10,199.05 L596.60,194.28 L597.10,189.62 L597.60,185.47 L598.10,182.24 L598.60,180.29 L599.00,179.79 L599.10,179.82 L599.60,180.90 L600.10,183.40 L600.60,187.04 L601.10,191.45 L601.60,196.20 L602.10,200.91 L602.60,205.26 L603.10,209.03 L603.60,212.13 L604.10,214.55 L604.60,216.34 L605.10,217.60 L605.60,218.46 L605.90,218.82 L606.10,219.01 L606.60,219.35 L607.10,219.55 L607.60,219.67 L608.10,219.73 L608.60,219.76 L682.10,219.79" fill="none" stroke="#000" stroke-width="1.35" stroke-linejoin="round" clip-path="url(#c2_6)"/>
<path d="M614.00,219.79 L614.51,214.81 L615.26,207.46 L616.09,199.33 L616.86,191.98 L617.40,187.00 L617.64,184.45 L617.68,183.29 L617.63,183.40 L617.63,184.68 L617.80,187.00 L618.16,191.72 L618.62,198.91 L619.16,206.56 L619.73,212.63 L620.30,215.10 L620.90,212.63 L621.57,206.56 L622.24,198.91 L622.84,191.72 L623.30,187.00 L623.56,184.91 L623.66,184.11 L623.70,184.36 L623.78,185.40 L624.00,187.00 L624.38,190.02 L624.85,194.63 L625.38,199.53 L625.94,203.42 L626.50,205.00 L627.10,203.42 L627.77,199.53 L628.44,194.63 L629.04,190.02 L629.50,187.00 L629.76,185.41 L629.86,184.38 L629.91,184.16 L629.99,184.95 L630.20,187.00 L630.54,191.38 L630.95,197.93 L631.43,205.04 L631.98,211.10 L632.60,214.50 L633.33,214.13 L634.17,211.07 L635.06,206.97 L635.96,203.49 L636.80,202.30 L637.63,204.13 L638.49,207.87 L639.31,212.43 L640.03,216.67 L640.60,219.50 L640.98,219.79 L641.21,219.79 L641.34,219.79 L641.42,219.79 L641.50,219.79" fill="none" stroke="#000" stroke-width="1.35" stroke-linejoin="round" clip-path="url(#c2_6)"/>
<clipPath id="c2_7"><rect x="468.6" y="219.79000000000002" width="213.50" height="29.39"/></clipPath>
<path d="M553.90,248.18 L556.90,247.95 L559.90,247.23 L562.40,246.41 L564.90,243.92 L567.45,243.37 L570.00,241.35 L572.50,241.50 L575.00,239.95 L577.00,241.80 L579.00,240.93 L581.05,240.89 L583.10,238.97 L585.10,241.26 L587.10,241.08 L589.60,241.14 L592.10,239.27 L594.65,239.10 L597.20,236.33 L598.80,235.57 L600.80,238.29 L602.80,240.52 L604.80,241.73 L606.80,240.82 L608.80,242.71 L610.80,241.81 L612.80,238.80 L614.80,237.17 L616.80,231.55 L618.80,228.85 L620.80,224.03 L622.80,223.93 L624.80,222.55 L626.80,223.16 L628.80,225.32 L630.80,224.45 L632.80,228.83 L634.80,232.74 L636.80,236.06 L638.80,239.41 L640.80,239.22 L642.80,243.80 L644.80,244.73 L646.80,246.54 L648.80,246.09 L650.80,247.43 L652.80,247.45 L654.80,247.94 L656.80,248.20" fill="none" stroke="#6adcd2" stroke-width="0.85" clip-path="url(#c2_7)"/>
<path d="M553.10,248.18 L555.10,248.11 L557.10,247.54 L559.10,247.58 L561.60,245.47 L564.10,245.16 L566.65,242.35 L569.20,242.18 L571.70,240.02 L574.20,240.76 L576.20,240.34 L578.20,241.84 L580.25,239.86 L582.30,240.33 L584.30,239.94 L586.30,241.98 L588.80,239.95 L591.30,239.82 L593.85,237.46 L596.40,236.65 L598.00,234.16 L600.00,238.77 L602.00,239.45 L604.00,242.82 L606.00,239.07 L608.00,243.49 L610.00,240.25 L612.00,239.41 L614.00,235.49 L616.00,231.56 L618.00,226.38 L620.00,224.73 L622.00,221.44 L624.00,221.56 L626.00,221.17 L628.00,225.57 L630.00,223.23 L632.00,228.81 L634.00,231.09 L636.00,236.47 L638.00,237.51 L640.00,240.82 L642.00,242.49 L644.00,245.65 L646.00,245.22 L648.00,247.27 L650.00,246.62 L652.00,247.65 L654.00,247.70 L656.00,248.20" fill="none" stroke="#7c2898" stroke-width="1.35" stroke-dasharray="6.5,2.2" stroke-linejoin="round" clip-path="url(#c2_7)"/>
<path d="M468.60,248.18 L561.60,248.16 L562.10,248.12 L562.60,248.03 L563.10,247.82 L563.40,247.59 L563.60,247.38 L564.10,246.58 L564.60,245.19 L565.10,243.05 L565.60,240.05 L566.10,236.30 L566.60,232.17 L567.10,228.27 L567.60,225.35 L568.10,224.02 L568.20,223.98 L568.60,224.60 L569.10,226.95 L569.60,230.54 L570.10,234.67 L570.60,238.63 L571.10,241.95 L571.60,244.44 L572.10,246.10 L572.60,247.12 L573.00,247.59 L573.10,247.68 L573.60,247.96 L574.10,248.09 L574.60,248.15 L575.10,248.17 L590.60,248.15 L591.10,248.12 L591.60,248.04 L592.10,247.89 L592.60,247.60 L593.00,247.21 L593.10,247.08 L593.60,246.21 L594.10,244.83 L594.60,242.77 L595.10,239.87 L595.60,236.06 L596.10,231.40 L596.60,226.12 L597.10,220.63 L597.60,215.51 L598.10,211.39 L598.60,208.84 L599.00,208.18 L599.10,208.22 L599.60,209.64 L600.10,212.88 L600.60,217.48 L601.10,222.82 L601.60,228.28 L602.10,233.36 L602.60,237.69 L603.10,241.14 L603.60,243.69 L604.10,245.46 L604.60,246.61 L605.00,247.21 L605.10,247.32 L605.60,247.74 L606.10,247.96 L606.60,248.08 L607.10,248.13 L607.60,248.16 L682.10,248.18" fill="none" stroke="#000" stroke-width="1.35" stroke-linejoin="round" clip-path="url(#c2_7)"/>
<path d="M614.00,248.18 L614.50,243.88 L615.21,237.35 L616.04,230.39 L616.90,224.77 L617.70,222.30 L618.42,224.59 L619.13,230.45 L619.84,237.45 L620.59,243.15 L621.40,245.10 L622.32,241.98 L623.32,235.42 L624.34,227.41 L625.32,219.94 L626.20,215.00 L626.93,212.57 L627.57,211.34 L628.16,211.31 L628.75,212.52 L629.40,215.00 L630.09,220.09 L630.79,227.78 L631.52,236.04 L632.28,242.85 L633.10,246.20 L634.01,244.51 L634.99,239.13 L636.01,232.41 L636.99,226.72 L637.90,224.40 L638.76,226.56 L639.59,231.61 L640.37,237.93 L641.06,243.87 L641.60,247.80 L641.97,248.18 L642.20,248.18 L642.34,248.18 L642.42,248.18 L642.50,248.18" fill="none" stroke="#000" stroke-width="1.35" stroke-linejoin="round" clip-path="url(#c2_7)"/>
<clipPath id="c2_8"><rect x="468.6" y="248.18" width="213.50" height="29.39"/></clipPath>
<path d="M565.00,276.49 L567.55,276.15 L570.10,275.17 L572.65,275.13 L575.20,273.91 L577.73,273.97 L580.25,272.76 L582.77,273.29 L585.30,271.54 L587.83,272.25 L590.35,270.54 L592.88,271.08 L595.40,269.89 L597.90,269.85 L600.40,267.54 L602.90,267.67 L605.40,265.87 L608.10,266.67 L610.80,265.65 L613.50,266.66 L616.50,262.74 L619.50,260.77 L622.55,253.99 L625.60,249.59 L628.60,252.69 L631.60,257.38 L634.30,255.89 L637.00,256.09 L639.70,254.69 L642.70,257.37 L645.70,258.73 L648.40,262.76 L651.10,264.79 L653.80,268.91 L655.80,270.87 L657.80,274.73 L660.20,274.76 L662.60,275.98 L665.00,276.50" fill="none" stroke="#6adcd2" stroke-width="0.85" clip-path="url(#c2_8)"/>
<path d="M553.10,276.57 L555.50,276.57 L557.90,276.57 L560.30,276.55 L562.70,276.38 L565.10,276.39 L567.62,275.57 L570.15,275.73 L572.68,274.43 L575.20,275.54 L577.73,273.66 L580.25,274.75 L582.77,273.56 L585.30,274.77 L587.97,272.75 L590.63,273.62 L593.30,271.52 L595.53,271.89 L597.77,270.15 L600.00,270.57 L602.00,267.28 L604.00,267.47 L606.00,265.33 L608.00,267.68 L610.00,267.51 L612.00,270.87 L614.00,266.36 L616.00,263.86 L618.00,259.09 L620.00,257.79 L622.00,253.25 L624.00,250.77 L626.00,247.57 L628.00,255.80 L629.00,257.07 L631.00,260.76 L633.00,256.24 L635.00,259.86 L637.00,261.30 L639.00,258.94 L641.00,251.12 L642.00,254.35 L643.00,261.19 L645.00,264.67 L647.00,264.26 L649.00,267.56 L651.00,261.07 L653.00,265.48 L655.00,269.32 L657.00,274.75 L659.00,275.83 L661.50,275.89 L664.00,275.31 L666.00,276.19 L668.00,276.50" fill="none" stroke="#7c2898" stroke-width="1.35" stroke-dasharray="6.5,2.2" stroke-linejoin="round" clip-path="url(#c2_8)"/>
<path d="M468.60,276.57 L568.60,276.56 L569.10,276.52 L569.60,276.42 L570.10,276.14 L570.60,275.48 L571.10,274.06 L571.60,271.37 L572.10,266.89 L572.60,260.35 L573.10,252.10 L573.60,243.35 L574.10,235.99 L574.60,231.95 L574.80,231.57 L575.10,232.42 L575.60,237.25 L576.10,245.06 L576.60,253.84 L577.10,261.82 L577.60,267.95 L578.10,272.04 L578.60,274.43 L579.00,275.48 L579.10,275.66 L579.60,276.22 L580.10,276.45 L580.60,276.53 L581.10,276.56 L598.60,276.55 L599.10,276.51 L599.60,276.44 L600.10,276.30 L600.60,276.01 L601.10,275.50 L601.20,275.36 L601.60,274.61 L602.10,273.17 L602.60,270.95 L603.10,267.76 L603.60,263.46 L604.10,258.04 L604.60,251.70 L605.10,244.87 L605.60,238.19 L606.10,232.45 L606.60,228.40 L607.10,226.62 L607.20,226.57 L607.60,227.39 L608.10,230.58 L608.60,235.73 L609.10,242.13 L609.60,248.99 L610.10,255.60 L610.60,261.42 L611.10,266.18 L611.60,269.80 L612.10,272.38 L612.60,274.11 L613.10,275.20 L613.20,275.36 L613.60,275.84 L614.10,276.20 L614.60,276.40 L615.10,276.49 L615.60,276.54 L616.10,276.56 L622.60,276.55 L623.10,276.49 L623.60,276.32 L624.10,275.83 L624.30,275.48 L624.60,274.68 L625.10,272.28 L625.60,267.95 L626.10,261.26 L626.60,252.51 L627.10,243.09 L627.60,235.36 L628.10,231.68 L628.20,231.57 L628.60,233.30 L629.10,239.65 L629.60,248.68 L630.10,257.86 L630.60,265.25 L631.10,269.91 L631.20,270.50 L631.60,271.65 L632.10,270.50 L632.60,266.41 L633.10,259.52 L633.60,250.58 L634.10,241.32 L634.60,234.23 L635.10,231.56 L635.60,234.20 L636.10,241.20 L636.60,250.22 L637.10,258.56 L637.60,264.14 L638.10,265.83 L638.60,263.31 L639.00,258.56 L639.10,257.05 L639.60,248.39 L640.10,239.56 L640.60,233.27 L641.00,231.56 L641.10,231.67 L641.60,235.36 L642.10,243.09 L642.60,252.51 L643.10,261.26 L643.60,267.95 L644.10,272.28 L644.60,274.68 L644.90,275.48 L645.10,275.83 L645.60,276.32 L646.10,276.49 L646.60,276.55 L648.10,276.56 L648.60,276.52 L649.10,276.42 L649.60,276.14 L650.10,275.48 L650.60,274.06 L651.10,271.37 L651.60,266.89 L652.10,260.35 L652.60,252.10 L653.10,243.35 L653.60,235.99 L654.10,231.95 L654.30,231.57 L654.60,232.42 L655.10,237.25 L655.60,245.06 L656.10,253.84 L656.60,261.82 L657.10,267.95 L657.60,272.04 L658.10,274.43 L658.50,275.48 L658.60,275.66 L659.10,276.22 L659.60,276.45 L660.10,276.53 L660.60,276.55 L661.10,276.55 L661.40,276.53 L661.60,276.52 L662.10,276.46 L662.60,276.37 L663.10,276.21 L663.60,276.00 L664.10,275.74 L664.60,275.47 L665.10,275.24 L665.60,275.09 L665.90,275.07 L666.10,275.08 L666.60,275.20 L667.10,275.42 L667.60,275.69 L668.10,275.95 L668.60,276.18 L669.10,276.34 L669.60,276.45 L670.10,276.51 L670.40,276.53 L670.60,276.54 L682.10,276.57" fill="none" stroke="#000" stroke-width="1.35" stroke-linejoin="round" clip-path="url(#c2_8)"/>
<line x1="468.6" y1="49.45" x2="682.1" y2="49.45" stroke="#000" stroke-width="1.1"/>
<line x1="468.60" y1="49.45" x2="468.60" y2="43.95" stroke="#000" stroke-width="1"/>
<line x1="489.95" y1="49.45" x2="489.95" y2="46.95" stroke="#000" stroke-width="1"/>
<line x1="511.30" y1="49.45" x2="511.30" y2="43.95" stroke="#000" stroke-width="1"/>
<line x1="532.65" y1="49.45" x2="532.65" y2="46.95" stroke="#000" stroke-width="1"/>
<line x1="554.00" y1="49.45" x2="554.00" y2="43.95" stroke="#000" stroke-width="1"/>
<line x1="575.35" y1="49.45" x2="575.35" y2="46.95" stroke="#000" stroke-width="1"/>
<line x1="596.70" y1="49.45" x2="596.70" y2="43.95" stroke="#000" stroke-width="1"/>
<line x1="618.05" y1="49.45" x2="618.05" y2="46.95" stroke="#000" stroke-width="1"/>
<line x1="639.40" y1="49.45" x2="639.40" y2="43.95" stroke="#000" stroke-width="1"/>
<line x1="660.75" y1="49.45" x2="660.75" y2="46.95" stroke="#000" stroke-width="1"/>
<line x1="682.10" y1="49.45" x2="682.10" y2="43.95" stroke="#000" stroke-width="1"/>
<line x1="468.6" y1="41.75" x2="471.90000000000003" y2="41.75" stroke="#000" stroke-width="1"/>
<line x1="468.6" y1="34.05" x2="474.90000000000003" y2="34.05" stroke="#000" stroke-width="1"/>
<line x1="468.6" y1="26.35" x2="471.90000000000003" y2="26.35" stroke="#000" stroke-width="1"/>
<line x1="468.6" y1="77.84" x2="682.1" y2="77.84" stroke="#000" stroke-width="1.1"/>
<line x1="468.60" y1="77.84" x2="468.60" y2="72.34" stroke="#000" stroke-width="1"/>
<line x1="489.95" y1="77.84" x2="489.95" y2="75.34" stroke="#000" stroke-width="1"/>
<line x1="511.30" y1="77.84" x2="511.30" y2="72.34" stroke="#000" stroke-width="1"/>
<line x1="532.65" y1="77.84" x2="532.65" y2="75.34" stroke="#000" stroke-width="1"/>
<line x1="554.00" y1="77.84" x2="554.00" y2="72.34" stroke="#000" stroke-width="1"/>
<line x1="575.35" y1="77.84" x2="575.35" y2="75.34" stroke="#000" stroke-width="1"/>
<line x1="596.70" y1="77.84" x2="596.70" y2="72.34" stroke="#000" stroke-width="1"/>
<line x1="618.05" y1="77.84" x2="618.05" y2="75.34" stroke="#000" stroke-width="1"/>
<line x1="639.40" y1="77.84" x2="639.40" y2="72.34" stroke="#000" stroke-width="1"/>
<line x1="660.75" y1="77.84" x2="660.75" y2="75.34" stroke="#000" stroke-width="1"/>
<line x1="682.10" y1="77.84" x2="682.10" y2="72.34" stroke="#000" stroke-width="1"/>
<line x1="468.6" y1="70.74" x2="471.90000000000003" y2="70.74" stroke="#000" stroke-width="1"/>
<line x1="468.6" y1="63.64" x2="474.90000000000003" y2="63.64" stroke="#000" stroke-width="1"/>
<line x1="468.6" y1="56.54" x2="471.90000000000003" y2="56.54" stroke="#000" stroke-width="1"/>
<line x1="468.6" y1="106.23" x2="682.1" y2="106.23" stroke="#000" stroke-width="1.1"/>
<line x1="468.60" y1="106.23" x2="468.60" y2="100.73" stroke="#000" stroke-width="1"/>
<line x1="489.95" y1="106.23" x2="489.95" y2="103.73" stroke="#000" stroke-width="1"/>
<line x1="511.30" y1="106.23" x2="511.30" y2="100.73" stroke="#000" stroke-width="1"/>
<line x1="532.65" y1="106.23" x2="532.65" y2="103.73" stroke="#000" stroke-width="1"/>
<line x1="554.00" y1="106.23" x2="554.00" y2="100.73" stroke="#000" stroke-width="1"/>
<line x1="575.35" y1="106.23" x2="575.35" y2="103.73" stroke="#000" stroke-width="1"/>
<line x1="596.70" y1="106.23" x2="596.70" y2="100.73" stroke="#000" stroke-width="1"/>
<line x1="618.05" y1="106.23" x2="618.05" y2="103.73" stroke="#000" stroke-width="1"/>
<line x1="639.40" y1="106.23" x2="639.40" y2="100.73" stroke="#000" stroke-width="1"/>
<line x1="660.75" y1="106.23" x2="660.75" y2="103.73" stroke="#000" stroke-width="1"/>
<line x1="682.10" y1="106.23" x2="682.10" y2="100.73" stroke="#000" stroke-width="1"/>
<line x1="468.6" y1="99.13" x2="471.90000000000003" y2="99.13" stroke="#000" stroke-width="1"/>
<line x1="468.6" y1="92.03" x2="474.90000000000003" y2="92.03" stroke="#000" stroke-width="1"/>
<line x1="468.6" y1="84.93" x2="471.90000000000003" y2="84.93" stroke="#000" stroke-width="1"/>
<line x1="468.6" y1="134.62" x2="682.1" y2="134.62" stroke="#000" stroke-width="1.1"/>
<line x1="468.60" y1="134.62" x2="468.60" y2="129.12" stroke="#000" stroke-width="1"/>
<line x1="489.95" y1="134.62" x2="489.95" y2="132.12" stroke="#000" stroke-width="1"/>
<line x1="511.30" y1="134.62" x2="511.30" y2="129.12" stroke="#000" stroke-width="1"/>
<line x1="532.65" y1="134.62" x2="532.65" y2="132.12" stroke="#000" stroke-width="1"/>
<line x1="554.00" y1="134.62" x2="554.00" y2="129.12" stroke="#000" stroke-width="1"/>
<line x1="575.35" y1="134.62" x2="575.35" y2="132.12" stroke="#000" stroke-width="1"/>
<line x1="596.70" y1="134.62" x2="596.70" y2="129.12" stroke="#000" stroke-width="1"/>
<line x1="618.05" y1="134.62" x2="618.05" y2="132.12" stroke="#000" stroke-width="1"/>
<line x1="639.40" y1="134.62" x2="639.40" y2="129.12" stroke="#000" stroke-width="1"/>
<line x1="660.75" y1="134.62" x2="660.75" y2="132.12" stroke="#000" stroke-width="1"/>
<line x1="682.10" y1="134.62" x2="682.10" y2="129.12" stroke="#000" stroke-width="1"/>
<line x1="468.6" y1="127.52" x2="471.90000000000003" y2="127.52" stroke="#000" stroke-width="1"/>
<line x1="468.6" y1="120.42" x2="474.90000000000003" y2="120.42" stroke="#000" stroke-width="1"/>
<line x1="468.6" y1="113.32" x2="471.90000000000003" y2="113.32" stroke="#000" stroke-width="1"/>
<line x1="468.6" y1="163.01" x2="682.1" y2="163.01" stroke="#000" stroke-width="1.1"/>
<line x1="468.60" y1="163.01" x2="468.60" y2="157.51" stroke="#000" stroke-width="1"/>
<line x1="489.95" y1="163.01" x2="489.95" y2="160.51" stroke="#000" stroke-width="1"/>
<line x1="511.30" y1="163.01" x2="511.30" y2="157.51" stroke="#000" stroke-width="1"/>
<line x1="532.65" y1="163.01" x2="532.65" y2="160.51" stroke="#000" stroke-width="1"/>
<line x1="554.00" y1="163.01" x2="554.00" y2="157.51" stroke="#000" stroke-width="1"/>
<line x1="575.35" y1="163.01" x2="575.35" y2="160.51" stroke="#000" stroke-width="1"/>
<line x1="596.70" y1="163.01" x2="596.70" y2="157.51" stroke="#000" stroke-width="1"/>
<line x1="618.05" y1="163.01" x2="618.05" y2="160.51" stroke="#000" stroke-width="1"/>
<line x1="639.40" y1="163.01" x2="639.40" y2="157.51" stroke="#000" stroke-width="1"/>
<line x1="660.75" y1="163.01" x2="660.75" y2="160.51" stroke="#000" stroke-width="1"/>
<line x1="682.10" y1="163.01" x2="682.10" y2="157.51" stroke="#000" stroke-width="1"/>
<line x1="468.6" y1="155.91" x2="471.90000000000003" y2="155.91" stroke="#000" stroke-width="1"/>
<line x1="468.6" y1="148.81" x2="474.90000000000003" y2="148.81" stroke="#000" stroke-width="1"/>
<line x1="468.6" y1="141.71" x2="471.90000000000003" y2="141.71" stroke="#000" stroke-width="1"/>
<line x1="468.6" y1="191.40" x2="682.1" y2="191.40" stroke="#000" stroke-width="1.1"/>
<line x1="468.60" y1="191.40" x2="468.60" y2="185.90" stroke="#000" stroke-width="1"/>
<line x1="489.95" y1="191.40" x2="489.95" y2="188.90" stroke="#000" stroke-width="1"/>
<line x1="511.30" y1="191.40" x2="511.30" y2="185.90" stroke="#000" stroke-width="1"/>
<line x1="532.65" y1="191.40" x2="532.65" y2="188.90" stroke="#000" stroke-width="1"/>
<line x1="554.00" y1="191.40" x2="554.00" y2="185.90" stroke="#000" stroke-width="1"/>
<line x1="575.35" y1="191.40" x2="575.35" y2="188.90" stroke="#000" stroke-width="1"/>
<line x1="596.70" y1="191.40" x2="596.70" y2="185.90" stroke="#000" stroke-width="1"/>
<line x1="618.05" y1="191.40" x2="618.05" y2="188.90" stroke="#000" stroke-width="1"/>
<line x1="639.40" y1="191.40" x2="639.40" y2="185.90" stroke="#000" stroke-width="1"/>
<line x1="660.75" y1="191.40" x2="660.75" y2="188.90" stroke="#000" stroke-width="1"/>
<line x1="682.10" y1="191.40" x2="682.10" y2="185.90" stroke="#000" stroke-width="1"/>
<line x1="468.6" y1="184.30" x2="471.90000000000003" y2="184.30" stroke="#000" stroke-width="1"/>
<line x1="468.6" y1="177.20" x2="474.90000000000003" y2="177.20" stroke="#000" stroke-width="1"/>
<line x1="468.6" y1="170.10" x2="471.90000000000003" y2="170.10" stroke="#000" stroke-width="1"/>
<line x1="468.6" y1="219.79" x2="682.1" y2="219.79" stroke="#000" stroke-width="1.1"/>
<line x1="468.60" y1="219.79" x2="468.60" y2="214.29" stroke="#000" stroke-width="1"/>
<line x1="489.95" y1="219.79" x2="489.95" y2="217.29" stroke="#000" stroke-width="1"/>
<line x1="511.30" y1="219.79" x2="511.30" y2="214.29" stroke="#000" stroke-width="1"/>
<line x1="532.65" y1="219.79" x2="532.65" y2="217.29" stroke="#000" stroke-width="1"/>
<line x1="554.00" y1="219.79" x2="554.00" y2="214.29" stroke="#000" stroke-width="1"/>
<line x1="575.35" y1="219.79" x2="575.35" y2="217.29" stroke="#000" stroke-width="1"/>
<line x1="596.70" y1="219.79" x2="596.70" y2="214.29" stroke="#000" stroke-width="1"/>
<line x1="618.05" y1="219.79" x2="618.05" y2="217.29" stroke="#000" stroke-width="1"/>
<line x1="639.40" y1="219.79" x2="639.40" y2="214.29" stroke="#000" stroke-width="1"/>
<line x1="660.75" y1="219.79" x2="660.75" y2="217.29" stroke="#000" stroke-width="1"/>
<line x1="682.10" y1="219.79" x2="682.10" y2="214.29" stroke="#000" stroke-width="1"/>
<line x1="468.6" y1="212.69" x2="471.90000000000003" y2="212.69" stroke="#000" stroke-width="1"/>
<line x1="468.6" y1="205.59" x2="474.90000000000003" y2="205.59" stroke="#000" stroke-width="1"/>
<line x1="468.6" y1="198.49" x2="471.90000000000003" y2="198.49" stroke="#000" stroke-width="1"/>
<line x1="468.6" y1="248.18" x2="682.1" y2="248.18" stroke="#000" stroke-width="1.1"/>
<line x1="468.60" y1="248.18" x2="468.60" y2="242.68" stroke="#000" stroke-width="1"/>
<line x1="489.95" y1="248.18" x2="489.95" y2="245.68" stroke="#000" stroke-width="1"/>
<line x1="511.30" y1="248.18" x2="511.30" y2="242.68" stroke="#000" stroke-width="1"/>
<line x1="532.65" y1="248.18" x2="532.65" y2="245.68" stroke="#000" stroke-width="1"/>
<line x1="554.00" y1="248.18" x2="554.00" y2="242.68" stroke="#000" stroke-width="1"/>
<line x1="575.35" y1="248.18" x2="575.35" y2="245.68" stroke="#000" stroke-width="1"/>
<line x1="596.70" y1="248.18" x2="596.70" y2="242.68" stroke="#000" stroke-width="1"/>
<line x1="618.05" y1="248.18" x2="618.05" y2="245.68" stroke="#000" stroke-width="1"/>
<line x1="639.40" y1="248.18" x2="639.40" y2="242.68" stroke="#000" stroke-width="1"/>
<line x1="660.75" y1="248.18" x2="660.75" y2="245.68" stroke="#000" stroke-width="1"/>
<line x1="682.10" y1="248.18" x2="682.10" y2="242.68" stroke="#000" stroke-width="1"/>
<line x1="468.6" y1="241.08" x2="471.90000000000003" y2="241.08" stroke="#000" stroke-width="1"/>
<line x1="468.6" y1="233.98" x2="474.90000000000003" y2="233.98" stroke="#000" stroke-width="1"/>
<line x1="468.6" y1="226.88" x2="471.90000000000003" y2="226.88" stroke="#000" stroke-width="1"/>
<line x1="468.6" y1="276.57" x2="682.1" y2="276.57" stroke="#000" stroke-width="1.1"/>
<line x1="468.60" y1="276.57" x2="468.60" y2="271.07" stroke="#000" stroke-width="1"/>
<line x1="489.95" y1="276.57" x2="489.95" y2="274.07" stroke="#000" stroke-width="1"/>
<line x1="511.30" y1="276.57" x2="511.30" y2="271.07" stroke="#000" stroke-width="1"/>
<line x1="532.65" y1="276.57" x2="532.65" y2="274.07" stroke="#000" stroke-width="1"/>
<line x1="554.00" y1="276.57" x2="554.00" y2="271.07" stroke="#000" stroke-width="1"/>
<line x1="575.35" y1="276.57" x2="575.35" y2="274.07" stroke="#000" stroke-width="1"/>
<line x1="596.70" y1="276.57" x2="596.70" y2="271.07" stroke="#000" stroke-width="1"/>
<line x1="618.05" y1="276.57" x2="618.05" y2="274.07" stroke="#000" stroke-width="1"/>
<line x1="639.40" y1="276.57" x2="639.40" y2="271.07" stroke="#000" stroke-width="1"/>
<line x1="660.75" y1="276.57" x2="660.75" y2="274.07" stroke="#000" stroke-width="1"/>
<line x1="682.10" y1="276.57" x2="682.10" y2="271.07" stroke="#000" stroke-width="1"/>
<line x1="468.6" y1="269.47" x2="471.90000000000003" y2="269.47" stroke="#000" stroke-width="1"/>
<line x1="468.6" y1="262.37" x2="474.90000000000003" y2="262.37" stroke="#000" stroke-width="1"/>
<line x1="468.6" y1="255.27" x2="471.90000000000003" y2="255.27" stroke="#000" stroke-width="1"/>
<path d="M468.6,276.57 L468.6,18.6 L682.1,18.6 L682.1,276.57" fill="none" stroke="#3a3a3a" stroke-width="1.1" stroke-linejoin="miter"/>
<line x1="484.9" y1="53.45" x2="484.9" y2="272.57" stroke="#444" stroke-width="1.3" stroke-dasharray="6,3"/>
<path d="M483.00,54.05 L484.9,50.35 L486.80,54.05 Z" fill="#222"/>
<path d="M482.90,271.57 L484.9,275.67 L486.90,271.57 Z" fill="#222"/>
<text x="484.5" y="35.9" font-size="10.6" fill="#111" stroke="#111" stroke-width="0.25">IF</text>
<text x="476.0" y="154.0" font-size="10.7" fill="#111" stroke="#111" stroke-width="0.25">STO</text>
<rect x="513.4" y="21.6" width="32.4" height="24.6" fill="#fff" stroke="#222" stroke-width="1"/>
<line x1="516.9" y1="26.400000000000002" x2="530.0" y2="26.400000000000002" stroke="#6adcd2" stroke-width="1.2"/>
<line x1="516.9" y1="33.6" x2="525.6" y2="33.6" stroke="#7c2898" stroke-width="1.3"/>
<line x1="528.4" y1="33.6" x2="529.4" y2="33.6" stroke="#7c2898" stroke-width="1.3"/>
<line x1="516.9" y1="41.0" x2="530.0" y2="41.0" stroke="#000" stroke-width="1.3"/>
<text x="536.1999999999999" y="28.2" font-size="6.9" fill="#2a2a2a">xz</text>
<text x="536.1999999999999" y="35.300000000000004" font-size="6.9" fill="#2a2a2a">yz</text>
<text x="536.1999999999999" y="42.6" font-size="6.9" fill="#2a2a2a">xy</text>
<text x="465.1" y="279.97" font-size="8" text-anchor="end" fill="#111" stroke="#111" stroke-width="0.25">0</text>
<text x="465.1" y="265.77" font-size="8" text-anchor="end" fill="#111" stroke="#111" stroke-width="0.25">1</text>
<text x="465.1" y="251.57" font-size="8" text-anchor="end" fill="#111" stroke="#111" stroke-width="0.25">2</text>
<text x="468.60" y="286.0" font-size="8" text-anchor="middle" fill="#111" stroke="#111" stroke-width="0.25">-2</text>
<text x="511.30" y="286.0" font-size="8" text-anchor="middle" fill="#111" stroke="#111" stroke-width="0.25">-1</text>
<text x="554.00" y="286.0" font-size="8" text-anchor="middle" fill="#111" stroke="#111" stroke-width="0.25">0</text>
<text x="596.70" y="286.0" font-size="8" text-anchor="middle" fill="#111" stroke="#111" stroke-width="0.25">1</text>
<text x="639.40" y="286.0" font-size="8" text-anchor="middle" fill="#111" stroke="#111" stroke-width="0.25">2</text>
<text x="682.10" y="286.0" font-size="8" text-anchor="middle" fill="#111" stroke="#111" stroke-width="0.25">3</text>
<text x="575.35" y="297.1" font-size="12" text-anchor="middle" fill="#111" stroke="#111" stroke-width="0.25">Energy (eV)</text>
<text x="535.9" y="10.9" font-size="12" textLength="39.4" lengthAdjust="spacingAndGlyphs" fill="#111" stroke="#111" stroke-width="0.25">(GTO)</text>
<text x="576.5" y="12.7" font-size="9.3" fill="#111" stroke="#111" stroke-width="0.25">1</text>
<text x="580.9" y="10.9" font-size="12" textLength="39.6" lengthAdjust="spacingAndGlyphs" fill="#111" stroke="#111" stroke-width="0.25">/(STO)</text>
<text x="622.3" y="14.7" font-size="10" fill="#111" stroke="#111" stroke-width="0.25">9</text>
</svg></body></html>
